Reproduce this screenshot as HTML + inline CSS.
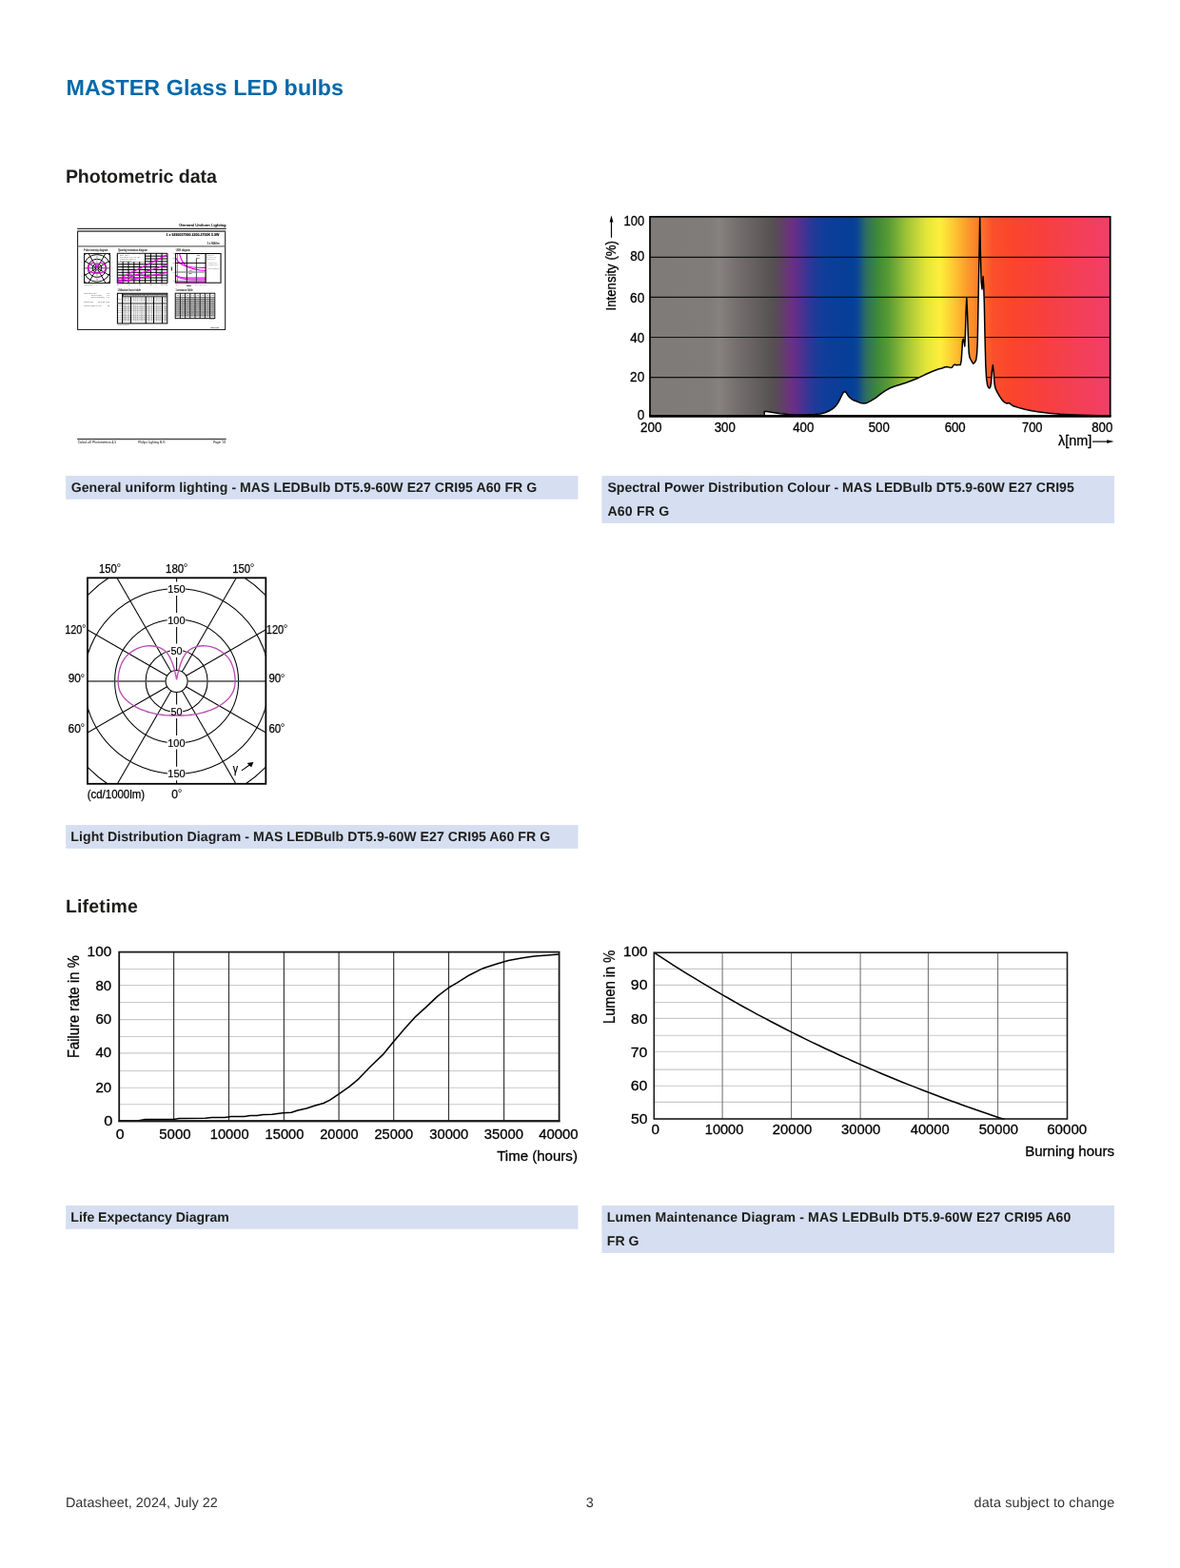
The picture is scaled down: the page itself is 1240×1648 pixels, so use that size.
<!DOCTYPE html>
<html lang="en"><head><meta charset="utf-8"><title>MASTER Glass LED bulbs</title>
<style>
html,body{margin:0;padding:0;background:#fff}
body{width:1240px;height:1648px;position:relative;overflow:hidden;font-family:"Liberation Sans",sans-serif;color:#1d1d1b}
.t{position:absolute;white-space:nowrap;margin:0;padding:0;line-height:1;text-rendering:geometricPrecision}
.cap{position:absolute;background:#d5dff1}
svg.art{position:absolute;left:0;top:0}
svg text{font-family:"Liberation Sans",sans-serif}
</style></head><body>
<svg class="art" width="1240" height="1648" viewBox="0 0 1240 1648" aria-hidden="true"><rect x="69.1" y="500.05" width="538.30" height="24.75" fill="#d5dff1"/><rect x="632.4" y="500.05" width="538.60" height="49.90" fill="#d5dff1"/><rect x="69.1" y="867.05" width="538.30" height="24.75" fill="#d5dff1"/><rect x="69.1" y="1267.05" width="538.30" height="24.75" fill="#d5dff1"/><rect x="632.4" y="1267.05" width="538.60" height="49.90" fill="#d5dff1"/></svg>
<h1 class="t " style="left:69.44px;top:81px;font-size:23.25px;font-weight:700;letter-spacing:0.106px;color:#0069a9">MASTER Glass LED bulbs</h1>
<h2 class="t " style="left:68.89px;top:177px;font-size:19.6px;font-weight:700;letter-spacing:-0.074px">Photometric data</h2>
<h2 class="t " style="left:68.90px;top:944px;font-size:19.4px;font-weight:700;letter-spacing:0.226px">Lifetime</h2>
<p class="t " style="left:74.72px;top:505px;font-size:14.1px;font-weight:700;letter-spacing:0.044px;color:#1d1d1b">General uniform lighting - MAS LEDBulb DT5.9-60W E27 CRI95 A60 FR G</p>
<p class="t " style="left:638.39px;top:505px;font-size:14.1px;font-weight:700;letter-spacing:0.002px;color:#1d1d1b">Spectral Power Distribution Colour - MAS LEDBulb DT5.9-60W E27 CRI95</p>
<p class="t " style="left:638.45px;top:530px;font-size:14.1px;font-weight:700;letter-spacing:0.209px;color:#1d1d1b">A60 FR G</p>
<p class="t " style="left:74.36px;top:872px;font-size:14.1px;font-weight:700;letter-spacing:0.046px;color:#1d1d1b">Light Distribution Diagram - MAS LEDBulb DT5.9-60W E27 CRI95 A60 FR G</p>
<p class="t " style="left:74.36px;top:1272px;font-size:14.1px;font-weight:700;letter-spacing:-0.054px;color:#1d1d1b">Life Expectancy Diagram</p>
<p class="t " style="left:637.86px;top:1272px;font-size:14.1px;font-weight:700;letter-spacing:0.103px;color:#1d1d1b">Lumen Maintenance Diagram - MAS LEDBulb DT5.9-60W E27 CRI95 A60</p>
<p class="t " style="left:637.86px;top:1297px;font-size:14.1px;font-weight:700;letter-spacing:-0.055px;color:#1d1d1b">FR G</p>
<div class="t " style="left:68.92px;top:1573px;font-size:14.4px;font-weight:400;letter-spacing:0.030px;color:#333">Datasheet, 2024, July 22</div>
<div class="t " style="left:615.75px;top:1573px;font-size:14.4px;font-weight:400;letter-spacing:0.000px;color:#333">3</div>
<div class="t " style="left:1023.50px;top:1573px;font-size:14.4px;font-weight:400;letter-spacing:0.140px;color:#333">data subject to change</div>
<svg class="art" width="1240" height="1648" viewBox="0 0 1240 1648">
<g id="thumb">
<defs><filter id="tblur" x="-5%" y="-5%" width="110%" height="110%"><feGaussianBlur stdDeviation="0.27"/></filter><clipPath id="mpclip"><rect x="88.5" y="266.5" width="27.0" height="31.0"/></clipPath><clipPath id="ugclip"><rect x="184.4" y="266.5" width="31.6" height="30.7"/></clipPath></defs>
<g filter="url(#tblur)">
<text transform="translate(188.28,238.40) scale(0.4445,0.4360)" font-size="10" font-weight="400" fill="#111" stroke="#111" stroke-width="0.36">General Uniform Lighting</text>
<line x1="81.20" y1="240.30" x2="237.70" y2="240.30" stroke="#333" stroke-width="1.15"/>
<rect x="81.6" y="243.0" width="155.1" height="103.4" fill="none" stroke="#111" stroke-width="1.0"/>
<line x1="81.60" y1="243.10" x2="236.70" y2="243.10" stroke="#666" stroke-width="1.2"/>
<line x1="81.60" y1="258.90" x2="236.70" y2="258.90" stroke="#666" stroke-width="1.3"/>
<text transform="translate(174.57,247.80) scale(0.3580,0.4215)" font-size="10" font-weight="700" fill="#000" stroke="#000" stroke-width="0.28">1 x 9290037990 2200-2700K 5.9W</text>
<text transform="translate(217.48,257.40) scale(0.2863,0.3198)" font-size="10" font-weight="400" fill="#222" stroke="#222" stroke-width="0.38">1 x 806 lm</text>
<text transform="translate(87.99,263.90) scale(0.2514,0.3198)" font-size="10" font-weight="400" fill="#333" stroke="#333" stroke-width="0.38">Polar intensity diagram</text>
<text transform="translate(123.88,263.90) scale(0.2497,0.3198)" font-size="10" font-weight="400" fill="#333" stroke="#333" stroke-width="0.38">Quantity estimation diagram</text>
<text transform="translate(184.81,263.90) scale(0.2446,0.3198)" font-size="10" font-weight="400" fill="#333" stroke="#333" stroke-width="0.38">UGR diagram</text>
<g clip-path="url(#mpclip)" fill="none" stroke="#000" stroke-width="0.95">
<circle cx="101.95" cy="281.85" r="1.70"/>
<circle cx="101.95" cy="281.85" r="4.79"/>
<circle cx="101.95" cy="281.85" r="9.59"/>
<circle cx="101.95" cy="281.85" r="14.38"/>
<circle cx="101.95" cy="281.85" r="19.18"/>
<line x1="102.80" y1="280.38" x2="116.95" y2="255.87" stroke="#000" stroke-width="0.95"/>
<line x1="103.42" y1="281.00" x2="127.93" y2="266.85" stroke="#000" stroke-width="0.95"/>
<line x1="103.42" y1="282.70" x2="127.93" y2="296.85" stroke="#000" stroke-width="0.95"/>
<line x1="102.80" y1="283.32" x2="116.95" y2="307.83" stroke="#000" stroke-width="0.95"/>
<line x1="101.10" y1="283.32" x2="86.95" y2="307.83" stroke="#000" stroke-width="0.95"/>
<line x1="100.48" y1="282.70" x2="75.97" y2="296.85" stroke="#000" stroke-width="0.95"/>
<line x1="100.48" y1="281.00" x2="75.97" y2="266.85" stroke="#000" stroke-width="0.95"/>
<line x1="101.10" y1="280.38" x2="86.95" y2="255.87" stroke="#000" stroke-width="0.95"/>
<line x1="88.10" y1="281.85" x2="115.90" y2="281.85" stroke="#000" stroke-width="0.7"/>
<line x1="101.95" y1="266.20" x2="101.95" y2="297.80" stroke="#999" stroke-width="0.9"/>
</g>
<path d="M101.95,281.60C101.94,281.52 101.89,281.30 101.86,281.14C101.83,280.99 101.80,280.84 101.77,280.70C101.73,280.55 101.70,280.40 101.66,280.25C101.62,280.10 101.58,279.95 101.54,279.80C101.49,279.65 101.45,279.51 101.40,279.36C101.35,279.21 101.30,279.07 101.24,278.92C101.19,278.78 101.13,278.63 101.06,278.49C101.00,278.35 100.93,278.20 100.86,278.07C100.78,277.93 100.70,277.80 100.62,277.67C100.53,277.55 100.43,277.43 100.32,277.32C100.21,277.21 100.10,277.11 99.97,277.02C99.85,276.93 99.72,276.85 99.59,276.78C99.45,276.71 99.31,276.65 99.17,276.60C99.03,276.55 98.88,276.50 98.74,276.47C98.59,276.44 98.44,276.41 98.29,276.39C98.14,276.38 97.98,276.37 97.83,276.37C97.68,276.37 97.52,276.38 97.37,276.39C97.21,276.41 97.06,276.43 96.91,276.46C96.75,276.49 96.60,276.53 96.45,276.57C96.30,276.62 96.15,276.67 96.00,276.73C95.86,276.79 95.71,276.85 95.58,276.92C95.44,276.99 95.30,277.07 95.17,277.15C95.03,277.24 94.90,277.33 94.78,277.42C94.66,277.51 94.54,277.61 94.43,277.72C94.31,277.82 94.21,277.93 94.11,278.05C94.01,278.16 93.91,278.28 93.83,278.40C93.74,278.52 93.66,278.65 93.59,278.78C93.52,278.91 93.45,279.05 93.40,279.19C93.34,279.33 93.28,279.47 93.23,279.61C93.18,279.76 93.14,279.91 93.10,280.06C93.06,280.21 93.03,280.36 93.00,280.52C92.97,280.68 92.95,280.84 92.93,281.00C92.91,281.16 92.89,281.32 92.88,281.48C92.88,281.64 92.87,281.80 92.88,281.96C92.88,282.12 92.89,282.28 92.91,282.43C92.93,282.59 92.96,282.74 93.00,282.89C93.04,283.04 93.08,283.18 93.14,283.32C93.19,283.46 93.26,283.59 93.33,283.72C93.40,283.85 93.48,283.98 93.56,284.10C93.65,284.22 93.74,284.34 93.84,284.45C93.94,284.56 94.04,284.67 94.15,284.78C94.26,284.88 94.37,284.98 94.49,285.08C94.61,285.18 94.74,285.27 94.86,285.36C94.99,285.45 95.12,285.54 95.25,285.62C95.39,285.70 95.53,285.78 95.66,285.85C95.80,285.93 95.94,286.00 96.09,286.06C96.23,286.13 96.37,286.19 96.51,286.25C96.66,286.31 96.80,286.37 96.95,286.43C97.09,286.48 97.24,286.53 97.39,286.58C97.53,286.62 97.68,286.67 97.83,286.71C97.98,286.75 98.13,286.79 98.28,286.82C98.43,286.86 98.58,286.89 98.73,286.92C98.88,286.95 99.03,286.97 99.18,287.00C99.33,287.02 99.49,287.04 99.64,287.06C99.79,287.08 99.94,287.09 100.10,287.11C100.25,287.12 100.41,287.13 100.56,287.14C100.71,287.15 100.87,287.16 101.02,287.16C101.17,287.17 101.33,287.17 101.48,287.17C101.64,287.17 101.87,287.17 101.95,287.17 M101.95,287.17C102.03,287.17 102.26,287.17 102.42,287.17C102.57,287.17 102.73,287.17 102.88,287.16C103.03,287.16 103.19,287.15 103.34,287.14C103.49,287.13 103.65,287.12 103.80,287.11C103.96,287.09 104.11,287.08 104.26,287.06C104.41,287.04 104.57,287.02 104.72,287.00C104.87,286.97 105.02,286.95 105.17,286.92C105.32,286.89 105.47,286.86 105.62,286.82C105.77,286.79 105.92,286.75 106.07,286.71C106.22,286.67 106.37,286.62 106.51,286.58C106.66,286.53 106.81,286.48 106.95,286.43C107.10,286.37 107.24,286.31 107.39,286.25C107.53,286.19 107.67,286.13 107.81,286.06C107.96,286.00 108.10,285.93 108.24,285.85C108.37,285.78 108.51,285.70 108.65,285.62C108.78,285.54 108.91,285.45 109.04,285.36C109.16,285.27 109.29,285.18 109.41,285.08C109.53,284.98 109.64,284.88 109.75,284.78C109.86,284.67 109.96,284.56 110.06,284.45C110.16,284.34 110.25,284.22 110.34,284.10C110.42,283.98 110.50,283.85 110.57,283.72C110.64,283.59 110.71,283.46 110.76,283.32C110.82,283.18 110.86,283.04 110.90,282.89C110.94,282.74 110.97,282.59 110.99,282.43C111.01,282.28 111.02,282.12 111.02,281.96C111.03,281.80 111.02,281.64 111.02,281.48C111.01,281.32 110.99,281.16 110.97,281.00C110.95,280.84 110.93,280.68 110.90,280.52C110.87,280.36 110.84,280.21 110.80,280.06C110.76,279.91 110.72,279.76 110.67,279.61C110.62,279.47 110.56,279.33 110.50,279.19C110.45,279.05 110.38,278.91 110.31,278.78C110.24,278.65 110.16,278.52 110.07,278.40C109.99,278.28 109.89,278.16 109.79,278.05C109.69,277.93 109.59,277.82 109.47,277.72C109.36,277.61 109.24,277.51 109.12,277.42C109.00,277.33 108.87,277.24 108.73,277.15C108.60,277.07 108.46,276.99 108.32,276.92C108.19,276.85 108.04,276.79 107.90,276.73C107.75,276.67 107.60,276.62 107.45,276.57C107.30,276.53 107.15,276.49 106.99,276.46C106.84,276.43 106.69,276.41 106.53,276.39C106.38,276.38 106.22,276.37 106.07,276.37C105.92,276.37 105.76,276.38 105.61,276.39C105.46,276.41 105.31,276.44 105.16,276.47C105.02,276.50 104.87,276.55 104.73,276.60C104.59,276.65 104.45,276.71 104.31,276.78C104.18,276.85 104.05,276.93 103.93,277.02C103.80,277.11 103.69,277.21 103.58,277.32C103.47,277.43 103.37,277.55 103.28,277.67C103.20,277.80 103.12,277.93 103.04,278.07C102.97,278.20 102.90,278.35 102.84,278.49C102.77,278.63 102.71,278.78 102.66,278.92C102.60,279.07 102.55,279.21 102.50,279.36C102.45,279.51 102.41,279.65 102.36,279.80C102.32,279.95 102.28,280.10 102.24,280.25C102.20,280.40 102.17,280.55 102.13,280.70C102.10,280.84 102.07,280.99 102.04,281.14C102.01,281.30 101.96,281.52 101.95,281.60" fill="none" stroke="#f200f2" stroke-width="1.25"/>
<rect x="88.5" y="266.5" width="27.0" height="31.0" fill="none" stroke="#000" stroke-width="0.9"/>
<text transform="translate(84.93,275.50) scale(0.1566,0.1890)" font-size="10" font-weight="400" fill="#777">90°</text>
<text transform="translate(85.53,283.00) scale(0.1566,0.1890)" font-size="10" font-weight="400" fill="#777">90°</text>
<text transform="translate(85.23,290.60) scale(0.1566,0.1890)" font-size="10" font-weight="400" fill="#777">90°</text>
<text transform="translate(116.53,275.50) scale(0.1566,0.1890)" font-size="10" font-weight="400" fill="#777">90°</text>
<text transform="translate(116.53,283.00) scale(0.1566,0.1890)" font-size="10" font-weight="400" fill="#777">90°</text>
<text transform="translate(116.53,290.60) scale(0.1566,0.1890)" font-size="10" font-weight="400" fill="#777">90°</text>
<text transform="translate(88.20,299.60) scale(0.1649,0.1890)" font-size="10" font-weight="400" fill="#666">(cd/1000lm)</text>
<text transform="translate(101.03,299.60) scale(0.1750,0.1890)" font-size="10" font-weight="400" fill="#666">0°</text>
<line x1="123.30" y1="266.30" x2="123.30" y2="297.70" stroke="#000" stroke-width="1.05"/>
<line x1="129.14" y1="266.30" x2="129.14" y2="297.70" stroke="#000" stroke-width="1.05"/>
<line x1="134.99" y1="266.30" x2="134.99" y2="297.70" stroke="#000" stroke-width="1.05"/>
<line x1="140.83" y1="266.30" x2="140.83" y2="297.70" stroke="#000" stroke-width="1.05"/>
<line x1="146.68" y1="266.30" x2="146.68" y2="297.70" stroke="#000" stroke-width="1.05"/>
<line x1="152.52" y1="266.30" x2="152.52" y2="297.70" stroke="#000" stroke-width="1.05"/>
<line x1="158.37" y1="266.30" x2="158.37" y2="297.70" stroke="#000" stroke-width="1.05"/>
<line x1="164.21" y1="266.30" x2="164.21" y2="297.70" stroke="#000" stroke-width="1.05"/>
<line x1="170.06" y1="266.30" x2="170.06" y2="297.70" stroke="#000" stroke-width="1.05"/>
<line x1="175.90" y1="266.30" x2="175.90" y2="297.70" stroke="#000" stroke-width="1.05"/>
<line x1="123.30" y1="266.30" x2="175.90" y2="266.30" stroke="#000" stroke-width="1.0"/>
<line x1="123.30" y1="269.15" x2="175.90" y2="269.15" stroke="#000" stroke-width="1.0"/>
<line x1="123.30" y1="272.01" x2="175.90" y2="272.01" stroke="#000" stroke-width="1.0"/>
<line x1="123.30" y1="274.86" x2="175.90" y2="274.86" stroke="#000" stroke-width="1.0"/>
<line x1="123.30" y1="277.72" x2="175.90" y2="277.72" stroke="#000" stroke-width="1.0"/>
<line x1="123.30" y1="280.57" x2="175.90" y2="280.57" stroke="#000" stroke-width="1.0"/>
<line x1="123.30" y1="283.43" x2="175.90" y2="283.43" stroke="#000" stroke-width="1.0"/>
<line x1="123.30" y1="286.28" x2="175.90" y2="286.28" stroke="#000" stroke-width="1.0"/>
<line x1="123.30" y1="289.14" x2="175.90" y2="289.14" stroke="#000" stroke-width="1.0"/>
<line x1="123.30" y1="291.99" x2="175.90" y2="291.99" stroke="#000" stroke-width="1.0"/>
<line x1="123.30" y1="294.85" x2="175.90" y2="294.85" stroke="#000" stroke-width="1.0"/>
<line x1="123.30" y1="297.70" x2="175.90" y2="297.70" stroke="#000" stroke-width="1.0"/>
<rect x="124.0" y="266.9" width="28.0" height="8.2" fill="#fff"/>
<text transform="translate(126.07,269.20) scale(0.1585,0.1817)" font-size="10" font-weight="400" fill="#555">Eavg = 500 lx</text>
<text transform="translate(126.07,271.25) scale(0.1557,0.1817)" font-size="10" font-weight="400" fill="#555">Reflectances: 0.70, 0.50, 0.20</text>
<text transform="translate(126.07,273.30) scale(0.1597,0.1817)" font-size="10" font-weight="400" fill="#555">Maintenance factor: 1.0</text>
<text transform="translate(126.11,275.35) scale(0.1687,0.1817)" font-size="10" font-weight="400" fill="#555">Ceiling mounted</text>
<line x1="123.80" y1="293.50" x2="175.50" y2="267.90" stroke="#f200f2" stroke-width="1.35"/>
<line x1="123.80" y1="295.30" x2="175.50" y2="278.20" stroke="#f200f2" stroke-width="1.35"/>
<line x1="123.80" y1="296.80" x2="175.50" y2="286.30" stroke="#f200f2" stroke-width="1.35"/>
<text transform="translate(122.90,299.50) scale(0.1955,0.1890)" font-size="10" font-weight="400" fill="#777">20</text>
<text transform="translate(134.56,299.50) scale(0.1904,0.1890)" font-size="10" font-weight="400" fill="#777">40</text>
<text transform="translate(146.10,299.50) scale(0.1956,0.1890)" font-size="10" font-weight="400" fill="#777">60</text>
<text transform="translate(157.72,299.50) scale(0.1942,0.1890)" font-size="10" font-weight="400" fill="#777">80</text>
<text transform="translate(169.26,299.50) scale(0.1803,0.1890)" font-size="10" font-weight="400" fill="#777">100</text>
<text transform="translate(173.31,299.50) scale(0.1450,0.1890)" font-size="10" font-weight="400" fill="#777">(m2)</text>
<g clip-path="url(#ugclip)" fill="none">
<path d="M188.6,267 C190.3,273 193,278 196.5,280 C201,281.4 208,281.3 216,281.4" stroke="#f200f2" stroke-width="1.1"/>
<path d="M185,271.3 C187,276 191.5,279 196.5,280.3 C202,282.8 209,284.2 216,284.5" stroke="#f200f2" stroke-width="1.1"/>
<path d="M185,289.3 C188,291.4 192,291.9 196.5,291.9 L216,291.9 L216,294.1 L201.6,294.1 C194,293.8 189,292.6 185,290.2 Z" fill="#f97ff9" stroke="#f200f2" stroke-width="0.9"/>
<line x1="184.40" y1="296.30" x2="216.00" y2="296.30" stroke="#f200f2" stroke-width="1.1"/>
</g>
<line x1="186.40" y1="266.50" x2="186.40" y2="297.20" stroke="#666" stroke-width="0.8"/>
<line x1="196.30" y1="266.50" x2="196.30" y2="297.20" stroke="#000" stroke-width="0.95"/>
<line x1="206.40" y1="271.50" x2="206.40" y2="297.20" stroke="#333" stroke-width="0.9"/>
<line x1="216.10" y1="266.50" x2="216.10" y2="297.20" stroke="#000" stroke-width="1.2"/>
<line x1="184.40" y1="276.40" x2="216.00" y2="276.40" stroke="#000" stroke-width="0.95"/>
<line x1="184.40" y1="286.00" x2="216.00" y2="286.00" stroke="#777" stroke-width="1.1"/>
<line x1="184.40" y1="295.30" x2="216.00" y2="295.30" stroke="#555" stroke-width="0.7"/>
<rect x="184.4" y="266.5" width="47.7" height="30.7" fill="none" stroke="#000" stroke-width="1.0"/>
<line x1="232.00" y1="266.50" x2="232.00" y2="297.20" stroke="#777" stroke-width="1.3"/>
<line x1="180.30" y1="280.50" x2="180.30" y2="284.50" stroke="#000" stroke-width="0.9"/>
<line x1="196.20" y1="300.30" x2="200.80" y2="300.30" stroke="#000" stroke-width="0.7"/>
<text transform="translate(206.25,268.60) scale(0.3094,0.2035)" font-size="10" font-weight="700" fill="#111">4H</text>
<text transform="translate(206.20,271.50) scale(0.3138,0.2035)" font-size="10" font-weight="700" fill="#444">8H</text>
<text transform="translate(198.56,284.60) scale(0.2843,0.2035)" font-size="10" font-weight="700" fill="#111">4H</text>
<text transform="translate(198.51,287.80) scale(0.2883,0.2035)" font-size="10" font-weight="700" fill="#444">8H</text>
<text transform="translate(217.41,268.80) scale(0.1071,0.1817)" font-size="10" font-weight="400" fill="#777">Luminaire data</text>
<text transform="translate(216.87,270.80) scale(0.1525,0.1817)" font-size="10" font-weight="400" fill="#777">Eye level 1.2 m</text>
<text transform="translate(216.99,272.80) scale(0.1202,0.1817)" font-size="10" font-weight="400" fill="#777">Viewing direction</text>
<text transform="translate(219.14,276.80) scale(0.1116,0.1817)" font-size="10" font-weight="400" fill="#777">Crosswise viewed</text>
<text transform="translate(219.11,278.80) scale(0.1132,0.1817)" font-size="10" font-weight="400" fill="#777">Lengthwise viewed</text>
<text transform="translate(219.04,282.80) scale(0.1907,0.1817)" font-size="10" font-weight="400" fill="#777">Reflectances</text>
<text transform="translate(185.09,299.60) scale(0.2268,0.1890)" font-size="10" font-weight="400" fill="#777">2H</text>
<text transform="translate(195.15,299.60) scale(0.2215,0.1890)" font-size="10" font-weight="400" fill="#777">4H</text>
<text transform="translate(204.90,299.60) scale(0.2254,0.1890)" font-size="10" font-weight="400" fill="#777">8H</text>
<text transform="translate(209.38,299.60) scale(0.1551,0.1890)" font-size="10" font-weight="400" fill="#777">12H</text>
<text transform="translate(214.18,299.60) scale(0.1551,0.1890)" font-size="10" font-weight="400" fill="#777">16H</text>
<text transform="translate(181.51,266.90) scale(0.1767,0.1890)" font-size="10" font-weight="400" fill="#777">28</text>
<text transform="translate(181.51,272.00) scale(0.1765,0.1890)" font-size="10" font-weight="400" fill="#777">25</text>
<text transform="translate(181.51,276.90) scale(0.1779,0.1890)" font-size="10" font-weight="400" fill="#777">22</text>
<text transform="translate(181.46,286.60) scale(0.1820,0.1890)" font-size="10" font-weight="400" fill="#777">19</text>
<text transform="translate(181.46,296.00) scale(0.1814,0.1890)" font-size="10" font-weight="400" fill="#777">16</text>
<text transform="translate(123.80,305.50) scale(0.2543,0.3198)" font-size="10" font-weight="400" fill="#333" stroke="#333" stroke-width="0.38">Utilisation factor table</text>
<text transform="translate(184.81,305.50) scale(0.2359,0.3198)" font-size="10" font-weight="400" fill="#333" stroke="#333" stroke-width="0.38">Luminance Table</text>
<text transform="translate(88.05,309.10) scale(0.1802,0.2471)" font-size="10" font-weight="400" fill="#555">Light output ratio</text>
<text transform="translate(112.14,309.10) scale(0.1502,0.2471)" font-size="10" font-weight="400" fill="#555">0.88</text>
<text transform="translate(95.93,311.20) scale(0.1622,0.2471)" font-size="10" font-weight="400" fill="#555">Service upward</text>
<text transform="translate(112.14,311.20) scale(0.1507,0.2471)" font-size="10" font-weight="400" fill="#555">0.41</text>
<text transform="translate(95.92,313.40) scale(0.1712,0.2471)" font-size="10" font-weight="400" fill="#555">Service downward</text>
<text transform="translate(112.14,313.40) scale(0.1508,0.2471)" font-size="10" font-weight="400" fill="#555">0.47</text>
<text transform="translate(88.11,317.80) scale(0.1675,0.2471)" font-size="10" font-weight="400" fill="#555">CIE flux code</text>
<text transform="translate(103.13,317.80) scale(0.1790,0.2471)" font-size="10" font-weight="400" fill="#555">33 61 85 47 88</text>
<text transform="translate(88.04,322.00) scale(0.2073,0.2471)" font-size="10" font-weight="400" fill="#555">Unified UGR(4H 8H)</text>
<text transform="translate(113.11,322.00) scale(0.1779,0.2471)" font-size="10" font-weight="400" fill="#555">22</text>
<rect x="123.4" y="308.3" width="52.40" height="31.60" fill="#fff" stroke="#000" stroke-width="1.0"/>
<rect x="128.6" y="309.0" width="47.0" height="2.6" fill="#555"/>
<text transform="translate(129.89,310.90) scale(0.1601,0.1890)" font-size="10" font-weight="700" fill="#fff">Reflectances (%) for ceiling, walls and working plane (CIE)</text>
<line x1="128.60" y1="311.90" x2="175.80" y2="311.90" stroke="#333" stroke-width="0.7"/>
<line x1="123.40" y1="318.80" x2="175.80" y2="318.80" stroke="#555" stroke-width="1.3"/>
<text transform="translate(129.23,314.30) scale(0.1784,0.2762)" font-size="10" font-weight="400" fill="#666">0.80 0.80</text>
<text transform="translate(138.54,314.30) scale(0.1616,0.2762)" font-size="10" font-weight="400" fill="#666">0.70 0.70 0.70 0.70</text>
<text transform="translate(154.14,314.30) scale(0.1564,0.2762)" font-size="10" font-weight="400" fill="#666">0.50 0.50</text>
<text transform="translate(162.54,314.30) scale(0.1662,0.2762)" font-size="10" font-weight="400" fill="#666">0.30 0.30</text>
<text transform="translate(171.32,314.30) scale(0.1927,0.2762)" font-size="10" font-weight="400" fill="#666">0.00</text>
<text transform="translate(129.23,316.50) scale(0.1784,0.2762)" font-size="10" font-weight="400" fill="#666">0.80 0.80</text>
<text transform="translate(138.54,316.50) scale(0.1616,0.2762)" font-size="10" font-weight="400" fill="#666">0.70 0.70 0.70 0.70</text>
<text transform="translate(154.14,316.50) scale(0.1564,0.2762)" font-size="10" font-weight="400" fill="#666">0.50 0.50</text>
<text transform="translate(162.54,316.50) scale(0.1662,0.2762)" font-size="10" font-weight="400" fill="#666">0.30 0.30</text>
<text transform="translate(171.32,316.50) scale(0.1927,0.2762)" font-size="10" font-weight="400" fill="#666">0.00</text>
<text transform="translate(129.23,322.60) scale(0.1784,0.2762)" font-size="10" font-weight="400" fill="#666">0.80 0.80</text>
<text transform="translate(138.54,322.60) scale(0.1616,0.2762)" font-size="10" font-weight="400" fill="#666">0.70 0.70 0.70 0.70</text>
<text transform="translate(154.14,322.60) scale(0.1564,0.2762)" font-size="10" font-weight="400" fill="#666">0.50 0.50</text>
<text transform="translate(162.54,322.60) scale(0.1662,0.2762)" font-size="10" font-weight="400" fill="#666">0.30 0.30</text>
<text transform="translate(171.32,322.60) scale(0.1927,0.2762)" font-size="10" font-weight="400" fill="#666">0.00</text>
<text transform="translate(124.23,322.45) scale(0.1766,0.2108)" font-size="10" font-weight="400" fill="#555">0.60</text>
<text transform="translate(129.23,324.87) scale(0.1784,0.2762)" font-size="10" font-weight="400" fill="#666">0.80 0.80</text>
<text transform="translate(138.54,324.87) scale(0.1616,0.2762)" font-size="10" font-weight="400" fill="#666">0.70 0.70 0.70 0.70</text>
<text transform="translate(154.14,324.87) scale(0.1564,0.2762)" font-size="10" font-weight="400" fill="#666">0.50 0.50</text>
<text transform="translate(162.54,324.87) scale(0.1662,0.2762)" font-size="10" font-weight="400" fill="#666">0.30 0.30</text>
<text transform="translate(171.32,324.87) scale(0.1927,0.2762)" font-size="10" font-weight="400" fill="#666">0.00</text>
<text transform="translate(124.16,324.72) scale(0.1802,0.2108)" font-size="10" font-weight="400" fill="#555">1.60</text>
<text transform="translate(129.23,327.14) scale(0.1784,0.2762)" font-size="10" font-weight="400" fill="#666">0.80 0.80</text>
<text transform="translate(138.54,327.14) scale(0.1616,0.2762)" font-size="10" font-weight="400" fill="#666">0.70 0.70 0.70 0.70</text>
<text transform="translate(154.14,327.14) scale(0.1564,0.2762)" font-size="10" font-weight="400" fill="#666">0.50 0.50</text>
<text transform="translate(162.54,327.14) scale(0.1662,0.2762)" font-size="10" font-weight="400" fill="#666">0.30 0.30</text>
<text transform="translate(171.32,327.14) scale(0.1927,0.2762)" font-size="10" font-weight="400" fill="#666">0.00</text>
<text transform="translate(124.21,326.99) scale(0.1777,0.2108)" font-size="10" font-weight="400" fill="#555">2.60</text>
<text transform="translate(129.23,329.41) scale(0.1784,0.2762)" font-size="10" font-weight="400" fill="#666">0.80 0.80</text>
<text transform="translate(138.54,329.41) scale(0.1616,0.2762)" font-size="10" font-weight="400" fill="#666">0.70 0.70 0.70 0.70</text>
<text transform="translate(154.14,329.41) scale(0.1564,0.2762)" font-size="10" font-weight="400" fill="#666">0.50 0.50</text>
<text transform="translate(162.54,329.41) scale(0.1662,0.2762)" font-size="10" font-weight="400" fill="#666">0.30 0.30</text>
<text transform="translate(171.32,329.41) scale(0.1927,0.2762)" font-size="10" font-weight="400" fill="#666">0.00</text>
<text transform="translate(124.23,329.26) scale(0.1766,0.2108)" font-size="10" font-weight="400" fill="#555">3.60</text>
<text transform="translate(129.23,331.68) scale(0.1784,0.2762)" font-size="10" font-weight="400" fill="#666">0.80 0.80</text>
<text transform="translate(138.54,331.68) scale(0.1616,0.2762)" font-size="10" font-weight="400" fill="#666">0.70 0.70 0.70 0.70</text>
<text transform="translate(154.14,331.68) scale(0.1564,0.2762)" font-size="10" font-weight="400" fill="#666">0.50 0.50</text>
<text transform="translate(162.54,331.68) scale(0.1662,0.2762)" font-size="10" font-weight="400" fill="#666">0.30 0.30</text>
<text transform="translate(171.32,331.68) scale(0.1927,0.2762)" font-size="10" font-weight="400" fill="#666">0.00</text>
<text transform="translate(124.26,331.53) scale(0.1751,0.2108)" font-size="10" font-weight="400" fill="#555">4.60</text>
<text transform="translate(129.23,333.95) scale(0.1784,0.2762)" font-size="10" font-weight="400" fill="#666">0.80 0.80</text>
<text transform="translate(138.54,333.95) scale(0.1616,0.2762)" font-size="10" font-weight="400" fill="#666">0.70 0.70 0.70 0.70</text>
<text transform="translate(154.14,333.95) scale(0.1564,0.2762)" font-size="10" font-weight="400" fill="#666">0.50 0.50</text>
<text transform="translate(162.54,333.95) scale(0.1662,0.2762)" font-size="10" font-weight="400" fill="#666">0.30 0.30</text>
<text transform="translate(171.32,333.95) scale(0.1927,0.2762)" font-size="10" font-weight="400" fill="#666">0.00</text>
<text transform="translate(124.23,333.80) scale(0.1767,0.2108)" font-size="10" font-weight="400" fill="#555">5.60</text>
<text transform="translate(129.23,336.22) scale(0.1784,0.2762)" font-size="10" font-weight="400" fill="#666">0.80 0.80</text>
<text transform="translate(138.54,336.22) scale(0.1616,0.2762)" font-size="10" font-weight="400" fill="#666">0.70 0.70 0.70 0.70</text>
<text transform="translate(154.14,336.22) scale(0.1564,0.2762)" font-size="10" font-weight="400" fill="#666">0.50 0.50</text>
<text transform="translate(162.54,336.22) scale(0.1662,0.2762)" font-size="10" font-weight="400" fill="#666">0.30 0.30</text>
<text transform="translate(171.32,336.22) scale(0.1927,0.2762)" font-size="10" font-weight="400" fill="#666">0.00</text>
<text transform="translate(124.21,336.07) scale(0.1778,0.2108)" font-size="10" font-weight="400" fill="#555">6.60</text>
<text transform="translate(129.23,338.49) scale(0.1784,0.2762)" font-size="10" font-weight="400" fill="#666">0.80 0.80</text>
<text transform="translate(138.54,338.49) scale(0.1616,0.2762)" font-size="10" font-weight="400" fill="#666">0.70 0.70 0.70 0.70</text>
<text transform="translate(154.14,338.49) scale(0.1564,0.2762)" font-size="10" font-weight="400" fill="#666">0.50 0.50</text>
<text transform="translate(162.54,338.49) scale(0.1662,0.2762)" font-size="10" font-weight="400" fill="#666">0.30 0.30</text>
<text transform="translate(171.32,338.49) scale(0.1927,0.2762)" font-size="10" font-weight="400" fill="#666">0.00</text>
<text transform="translate(124.23,338.34) scale(0.1767,0.2108)" font-size="10" font-weight="400" fill="#555">5.00</text>
<text transform="translate(124.19,315.30) scale(0.1310,0.2035)" font-size="10" font-weight="400" fill="#666">Room</text>
<line x1="128.60" y1="308.30" x2="128.60" y2="339.90" stroke="#000" stroke-width="1.05"/>
<line x1="137.50" y1="311.90" x2="137.50" y2="339.90" stroke="#000" stroke-width="1.05"/>
<line x1="153.20" y1="311.90" x2="153.20" y2="339.90" stroke="#000" stroke-width="1.05"/>
<line x1="161.50" y1="311.90" x2="161.50" y2="339.90" stroke="#000" stroke-width="1.05"/>
<line x1="170.50" y1="311.90" x2="170.50" y2="339.90" stroke="#000" stroke-width="1.05"/>
<text transform="translate(123.51,341.90) scale(0.1687,0.1890)" font-size="10" font-weight="400" fill="#666">Ceiling mounted</text>
<rect x="184.2" y="308.2" width="41.60" height="26.50" fill="#f0f0f0" stroke="#000" stroke-width="0.9"/>
<rect x="185.20" y="309.2" width="3.60" height="2.7" fill="#fff"/>
<text transform="translate(185.61,311.40) scale(0.2090,0.2180)" font-size="10" font-weight="700" fill="#555">C0</text>
<rect x="185.10" y="313.10" width="3.70" height="1.0" fill="#fff" opacity="0.9"/>
<text transform="translate(185.50,314.10) scale(0.1327,0.1744)" font-size="10" font-weight="400" fill="#777">1200</text>
<rect x="185.10" y="315.02" width="3.70" height="1.0" fill="#fff" opacity="0.9"/>
<text transform="translate(185.50,316.02) scale(0.1335,0.1744)" font-size="10" font-weight="400" fill="#777">1237</text>
<rect x="185.10" y="316.94" width="3.70" height="1.0" fill="#fff" opacity="0.9"/>
<text transform="translate(185.50,317.94) scale(0.1321,0.1744)" font-size="10" font-weight="400" fill="#777">1274</text>
<rect x="185.10" y="318.86" width="3.70" height="1.0" fill="#fff" opacity="0.9"/>
<text transform="translate(185.50,319.86) scale(0.1334,0.1744)" font-size="10" font-weight="400" fill="#777">1311</text>
<rect x="185.10" y="320.78" width="3.70" height="1.0" fill="#fff" opacity="0.9"/>
<text transform="translate(185.50,321.78) scale(0.1330,0.1744)" font-size="10" font-weight="400" fill="#777">1348</text>
<rect x="185.10" y="322.70" width="3.70" height="1.0" fill="#fff" opacity="0.9"/>
<text transform="translate(185.50,323.70) scale(0.1329,0.1744)" font-size="10" font-weight="400" fill="#777">1385</text>
<rect x="185.10" y="324.62" width="3.70" height="1.0" fill="#fff" opacity="0.9"/>
<text transform="translate(185.50,325.62) scale(0.1335,0.1744)" font-size="10" font-weight="400" fill="#777">1422</text>
<rect x="185.10" y="326.54" width="3.70" height="1.0" fill="#fff" opacity="0.9"/>
<text transform="translate(185.50,327.54) scale(0.1333,0.1744)" font-size="10" font-weight="400" fill="#777">1459</text>
<rect x="185.10" y="328.46" width="3.70" height="1.0" fill="#fff" opacity="0.9"/>
<text transform="translate(185.50,329.46) scale(0.1330,0.1744)" font-size="10" font-weight="400" fill="#777">1496</text>
<rect x="185.10" y="330.38" width="3.70" height="1.0" fill="#fff" opacity="0.9"/>
<text transform="translate(185.50,331.38) scale(0.1330,0.1744)" font-size="10" font-weight="400" fill="#777">1533</text>
<rect x="185.10" y="332.30" width="3.70" height="1.0" fill="#fff" opacity="0.9"/>
<text transform="translate(185.50,333.30) scale(0.1327,0.1744)" font-size="10" font-weight="400" fill="#777">1570</text>
<rect x="190.40" y="309.2" width="3.60" height="2.7" fill="#fff"/>
<text transform="translate(190.84,311.40) scale(0.1416,0.2180)" font-size="10" font-weight="700" fill="#555">C15</text>
<rect x="190.30" y="313.10" width="3.70" height="1.0" fill="#fff" opacity="0.9"/>
<text transform="translate(190.70,314.10) scale(0.1334,0.1744)" font-size="10" font-weight="400" fill="#777">1211</text>
<rect x="190.30" y="315.02" width="3.70" height="1.0" fill="#fff" opacity="0.9"/>
<text transform="translate(190.70,316.02) scale(0.1330,0.1744)" font-size="10" font-weight="400" fill="#777">1248</text>
<rect x="190.30" y="316.94" width="3.70" height="1.0" fill="#fff" opacity="0.9"/>
<text transform="translate(190.70,317.94) scale(0.1329,0.1744)" font-size="10" font-weight="400" fill="#777">1285</text>
<rect x="190.30" y="318.86" width="3.70" height="1.0" fill="#fff" opacity="0.9"/>
<text transform="translate(190.70,319.86) scale(0.1335,0.1744)" font-size="10" font-weight="400" fill="#777">1322</text>
<rect x="190.30" y="320.78" width="3.70" height="1.0" fill="#fff" opacity="0.9"/>
<text transform="translate(190.70,321.78) scale(0.1333,0.1744)" font-size="10" font-weight="400" fill="#777">1359</text>
<rect x="190.30" y="322.70" width="3.70" height="1.0" fill="#fff" opacity="0.9"/>
<text transform="translate(190.70,323.70) scale(0.1330,0.1744)" font-size="10" font-weight="400" fill="#777">1396</text>
<rect x="190.30" y="324.62" width="3.70" height="1.0" fill="#fff" opacity="0.9"/>
<text transform="translate(190.70,325.62) scale(0.1330,0.1744)" font-size="10" font-weight="400" fill="#777">1433</text>
<rect x="190.30" y="326.54" width="3.70" height="1.0" fill="#fff" opacity="0.9"/>
<text transform="translate(190.70,327.54) scale(0.1327,0.1744)" font-size="10" font-weight="400" fill="#777">1470</text>
<rect x="190.30" y="328.46" width="3.70" height="1.0" fill="#fff" opacity="0.9"/>
<text transform="translate(190.70,329.46) scale(0.1335,0.1744)" font-size="10" font-weight="400" fill="#777">1507</text>
<rect x="190.30" y="330.38" width="3.70" height="1.0" fill="#fff" opacity="0.9"/>
<text transform="translate(190.70,331.38) scale(0.1321,0.1744)" font-size="10" font-weight="400" fill="#777">1544</text>
<rect x="190.30" y="332.30" width="3.70" height="1.0" fill="#fff" opacity="0.9"/>
<text transform="translate(190.70,333.30) scale(0.1334,0.1744)" font-size="10" font-weight="400" fill="#777">1581</text>
<rect x="195.60" y="309.2" width="3.60" height="2.7" fill="#fff"/>
<text transform="translate(196.04,311.40) scale(0.1427,0.2180)" font-size="10" font-weight="700" fill="#555">C30</text>
<rect x="195.50" y="313.10" width="3.70" height="1.0" fill="#fff" opacity="0.9"/>
<text transform="translate(195.90,314.10) scale(0.1335,0.1744)" font-size="10" font-weight="400" fill="#777">1222</text>
<rect x="195.50" y="315.02" width="3.70" height="1.0" fill="#fff" opacity="0.9"/>
<text transform="translate(195.90,316.02) scale(0.1333,0.1744)" font-size="10" font-weight="400" fill="#777">1259</text>
<rect x="195.50" y="316.94" width="3.70" height="1.0" fill="#fff" opacity="0.9"/>
<text transform="translate(195.90,317.94) scale(0.1330,0.1744)" font-size="10" font-weight="400" fill="#777">1296</text>
<rect x="195.50" y="318.86" width="3.70" height="1.0" fill="#fff" opacity="0.9"/>
<text transform="translate(195.90,319.86) scale(0.1330,0.1744)" font-size="10" font-weight="400" fill="#777">1333</text>
<rect x="195.50" y="320.78" width="3.70" height="1.0" fill="#fff" opacity="0.9"/>
<text transform="translate(195.90,321.78) scale(0.1327,0.1744)" font-size="10" font-weight="400" fill="#777">1370</text>
<rect x="195.50" y="322.70" width="3.70" height="1.0" fill="#fff" opacity="0.9"/>
<text transform="translate(195.90,323.70) scale(0.1335,0.1744)" font-size="10" font-weight="400" fill="#777">1407</text>
<rect x="195.50" y="324.62" width="3.70" height="1.0" fill="#fff" opacity="0.9"/>
<text transform="translate(195.90,325.62) scale(0.1321,0.1744)" font-size="10" font-weight="400" fill="#777">1444</text>
<rect x="195.50" y="326.54" width="3.70" height="1.0" fill="#fff" opacity="0.9"/>
<text transform="translate(195.90,327.54) scale(0.1334,0.1744)" font-size="10" font-weight="400" fill="#777">1481</text>
<rect x="195.50" y="328.46" width="3.70" height="1.0" fill="#fff" opacity="0.9"/>
<text transform="translate(195.90,329.46) scale(0.1330,0.1744)" font-size="10" font-weight="400" fill="#777">1518</text>
<rect x="195.50" y="330.38" width="3.70" height="1.0" fill="#fff" opacity="0.9"/>
<text transform="translate(195.90,331.38) scale(0.1329,0.1744)" font-size="10" font-weight="400" fill="#777">1555</text>
<rect x="195.50" y="332.30" width="3.70" height="1.0" fill="#fff" opacity="0.9"/>
<text transform="translate(195.90,333.30) scale(0.1335,0.1744)" font-size="10" font-weight="400" fill="#777">1592</text>
<rect x="200.80" y="309.2" width="3.60" height="2.7" fill="#fff"/>
<text transform="translate(201.24,311.40) scale(0.1416,0.2180)" font-size="10" font-weight="700" fill="#555">C45</text>
<rect x="200.70" y="313.10" width="3.70" height="1.0" fill="#fff" opacity="0.9"/>
<text transform="translate(201.10,314.10) scale(0.1330,0.1744)" font-size="10" font-weight="400" fill="#777">1233</text>
<rect x="200.70" y="315.02" width="3.70" height="1.0" fill="#fff" opacity="0.9"/>
<text transform="translate(201.10,316.02) scale(0.1327,0.1744)" font-size="10" font-weight="400" fill="#777">1270</text>
<rect x="200.70" y="316.94" width="3.70" height="1.0" fill="#fff" opacity="0.9"/>
<text transform="translate(201.10,317.94) scale(0.1335,0.1744)" font-size="10" font-weight="400" fill="#777">1307</text>
<rect x="200.70" y="318.86" width="3.70" height="1.0" fill="#fff" opacity="0.9"/>
<text transform="translate(201.10,319.86) scale(0.1321,0.1744)" font-size="10" font-weight="400" fill="#777">1344</text>
<rect x="200.70" y="320.78" width="3.70" height="1.0" fill="#fff" opacity="0.9"/>
<text transform="translate(201.10,321.78) scale(0.1334,0.1744)" font-size="10" font-weight="400" fill="#777">1381</text>
<rect x="200.70" y="322.70" width="3.70" height="1.0" fill="#fff" opacity="0.9"/>
<text transform="translate(201.10,323.70) scale(0.1330,0.1744)" font-size="10" font-weight="400" fill="#777">1418</text>
<rect x="200.70" y="324.62" width="3.70" height="1.0" fill="#fff" opacity="0.9"/>
<text transform="translate(201.10,325.62) scale(0.1329,0.1744)" font-size="10" font-weight="400" fill="#777">1455</text>
<rect x="200.70" y="326.54" width="3.70" height="1.0" fill="#fff" opacity="0.9"/>
<text transform="translate(201.10,327.54) scale(0.1335,0.1744)" font-size="10" font-weight="400" fill="#777">1492</text>
<rect x="200.70" y="328.46" width="3.70" height="1.0" fill="#fff" opacity="0.9"/>
<text transform="translate(201.10,329.46) scale(0.1333,0.1744)" font-size="10" font-weight="400" fill="#777">1529</text>
<rect x="200.70" y="330.38" width="3.70" height="1.0" fill="#fff" opacity="0.9"/>
<text transform="translate(201.10,331.38) scale(0.1330,0.1744)" font-size="10" font-weight="400" fill="#777">1566</text>
<rect x="200.70" y="332.30" width="3.70" height="1.0" fill="#fff" opacity="0.9"/>
<text transform="translate(201.10,333.30) scale(0.1330,0.1744)" font-size="10" font-weight="400" fill="#777">1603</text>
<rect x="206.00" y="309.2" width="3.60" height="2.7" fill="#fff"/>
<text transform="translate(206.44,311.40) scale(0.1427,0.2180)" font-size="10" font-weight="700" fill="#555">C60</text>
<rect x="205.90" y="313.10" width="3.70" height="1.0" fill="#fff" opacity="0.9"/>
<text transform="translate(206.30,314.10) scale(0.1321,0.1744)" font-size="10" font-weight="400" fill="#777">1244</text>
<rect x="205.90" y="315.02" width="3.70" height="1.0" fill="#fff" opacity="0.9"/>
<text transform="translate(206.30,316.02) scale(0.1334,0.1744)" font-size="10" font-weight="400" fill="#777">1281</text>
<rect x="205.90" y="316.94" width="3.70" height="1.0" fill="#fff" opacity="0.9"/>
<text transform="translate(206.30,317.94) scale(0.1330,0.1744)" font-size="10" font-weight="400" fill="#777">1318</text>
<rect x="205.90" y="318.86" width="3.70" height="1.0" fill="#fff" opacity="0.9"/>
<text transform="translate(206.30,319.86) scale(0.1329,0.1744)" font-size="10" font-weight="400" fill="#777">1355</text>
<rect x="205.90" y="320.78" width="3.70" height="1.0" fill="#fff" opacity="0.9"/>
<text transform="translate(206.30,321.78) scale(0.1335,0.1744)" font-size="10" font-weight="400" fill="#777">1392</text>
<rect x="205.90" y="322.70" width="3.70" height="1.0" fill="#fff" opacity="0.9"/>
<text transform="translate(206.30,323.70) scale(0.1333,0.1744)" font-size="10" font-weight="400" fill="#777">1429</text>
<rect x="205.90" y="324.62" width="3.70" height="1.0" fill="#fff" opacity="0.9"/>
<text transform="translate(206.30,325.62) scale(0.1330,0.1744)" font-size="10" font-weight="400" fill="#777">1466</text>
<rect x="205.90" y="326.54" width="3.70" height="1.0" fill="#fff" opacity="0.9"/>
<text transform="translate(206.30,327.54) scale(0.1330,0.1744)" font-size="10" font-weight="400" fill="#777">1503</text>
<rect x="205.90" y="328.46" width="3.70" height="1.0" fill="#fff" opacity="0.9"/>
<text transform="translate(206.30,329.46) scale(0.1327,0.1744)" font-size="10" font-weight="400" fill="#777">1540</text>
<rect x="205.90" y="330.38" width="3.70" height="1.0" fill="#fff" opacity="0.9"/>
<text transform="translate(206.30,331.38) scale(0.1335,0.1744)" font-size="10" font-weight="400" fill="#777">1577</text>
<rect x="205.90" y="332.30" width="3.70" height="1.0" fill="#fff" opacity="0.9"/>
<text transform="translate(206.30,333.30) scale(0.1321,0.1744)" font-size="10" font-weight="400" fill="#777">1614</text>
<rect x="211.20" y="309.2" width="3.60" height="2.7" fill="#fff"/>
<text transform="translate(211.64,311.40) scale(0.1416,0.2180)" font-size="10" font-weight="700" fill="#555">C75</text>
<rect x="211.10" y="313.10" width="3.70" height="1.0" fill="#fff" opacity="0.9"/>
<text transform="translate(211.50,314.10) scale(0.1329,0.1744)" font-size="10" font-weight="400" fill="#777">1255</text>
<rect x="211.10" y="315.02" width="3.70" height="1.0" fill="#fff" opacity="0.9"/>
<text transform="translate(211.50,316.02) scale(0.1335,0.1744)" font-size="10" font-weight="400" fill="#777">1292</text>
<rect x="211.10" y="316.94" width="3.70" height="1.0" fill="#fff" opacity="0.9"/>
<text transform="translate(211.50,317.94) scale(0.1333,0.1744)" font-size="10" font-weight="400" fill="#777">1329</text>
<rect x="211.10" y="318.86" width="3.70" height="1.0" fill="#fff" opacity="0.9"/>
<text transform="translate(211.50,319.86) scale(0.1330,0.1744)" font-size="10" font-weight="400" fill="#777">1366</text>
<rect x="211.10" y="320.78" width="3.70" height="1.0" fill="#fff" opacity="0.9"/>
<text transform="translate(211.50,321.78) scale(0.1330,0.1744)" font-size="10" font-weight="400" fill="#777">1403</text>
<rect x="211.10" y="322.70" width="3.70" height="1.0" fill="#fff" opacity="0.9"/>
<text transform="translate(211.50,323.70) scale(0.1327,0.1744)" font-size="10" font-weight="400" fill="#777">1440</text>
<rect x="211.10" y="324.62" width="3.70" height="1.0" fill="#fff" opacity="0.9"/>
<text transform="translate(211.50,325.62) scale(0.1335,0.1744)" font-size="10" font-weight="400" fill="#777">1477</text>
<rect x="211.10" y="326.54" width="3.70" height="1.0" fill="#fff" opacity="0.9"/>
<text transform="translate(211.50,327.54) scale(0.1321,0.1744)" font-size="10" font-weight="400" fill="#777">1514</text>
<rect x="211.10" y="328.46" width="3.70" height="1.0" fill="#fff" opacity="0.9"/>
<text transform="translate(211.50,329.46) scale(0.1334,0.1744)" font-size="10" font-weight="400" fill="#777">1551</text>
<rect x="211.10" y="330.38" width="3.70" height="1.0" fill="#fff" opacity="0.9"/>
<text transform="translate(211.50,331.38) scale(0.1330,0.1744)" font-size="10" font-weight="400" fill="#777">1588</text>
<rect x="211.10" y="332.30" width="3.70" height="1.0" fill="#fff" opacity="0.9"/>
<text transform="translate(211.50,333.30) scale(0.1329,0.1744)" font-size="10" font-weight="400" fill="#777">1625</text>
<rect x="216.40" y="309.2" width="3.60" height="2.7" fill="#fff"/>
<text transform="translate(216.84,311.40) scale(0.1427,0.2180)" font-size="10" font-weight="700" fill="#555">C90</text>
<rect x="216.30" y="313.10" width="3.70" height="1.0" fill="#fff" opacity="0.9"/>
<text transform="translate(216.70,314.10) scale(0.1330,0.1744)" font-size="10" font-weight="400" fill="#777">1266</text>
<rect x="216.30" y="315.02" width="3.70" height="1.0" fill="#fff" opacity="0.9"/>
<text transform="translate(216.70,316.02) scale(0.1330,0.1744)" font-size="10" font-weight="400" fill="#777">1303</text>
<rect x="216.30" y="316.94" width="3.70" height="1.0" fill="#fff" opacity="0.9"/>
<text transform="translate(216.70,317.94) scale(0.1327,0.1744)" font-size="10" font-weight="400" fill="#777">1340</text>
<rect x="216.30" y="318.86" width="3.70" height="1.0" fill="#fff" opacity="0.9"/>
<text transform="translate(216.70,319.86) scale(0.1335,0.1744)" font-size="10" font-weight="400" fill="#777">1377</text>
<rect x="216.30" y="320.78" width="3.70" height="1.0" fill="#fff" opacity="0.9"/>
<text transform="translate(216.70,321.78) scale(0.1321,0.1744)" font-size="10" font-weight="400" fill="#777">1414</text>
<rect x="216.30" y="322.70" width="3.70" height="1.0" fill="#fff" opacity="0.9"/>
<text transform="translate(216.70,323.70) scale(0.1334,0.1744)" font-size="10" font-weight="400" fill="#777">1451</text>
<rect x="216.30" y="324.62" width="3.70" height="1.0" fill="#fff" opacity="0.9"/>
<text transform="translate(216.70,325.62) scale(0.1330,0.1744)" font-size="10" font-weight="400" fill="#777">1488</text>
<rect x="216.30" y="326.54" width="3.70" height="1.0" fill="#fff" opacity="0.9"/>
<text transform="translate(216.70,327.54) scale(0.1329,0.1744)" font-size="10" font-weight="400" fill="#777">1525</text>
<rect x="216.30" y="328.46" width="3.70" height="1.0" fill="#fff" opacity="0.9"/>
<text transform="translate(216.70,329.46) scale(0.1335,0.1744)" font-size="10" font-weight="400" fill="#777">1562</text>
<rect x="216.30" y="330.38" width="3.70" height="1.0" fill="#fff" opacity="0.9"/>
<text transform="translate(216.70,331.38) scale(0.1333,0.1744)" font-size="10" font-weight="400" fill="#777">1599</text>
<rect x="216.30" y="332.30" width="3.70" height="1.0" fill="#fff" opacity="0.9"/>
<text transform="translate(216.70,333.30) scale(0.1330,0.1744)" font-size="10" font-weight="400" fill="#777">1636</text>
<rect x="221.60" y="309.2" width="3.60" height="2.7" fill="#fff"/>
<text transform="translate(222.06,311.40) scale(0.1077,0.2180)" font-size="10" font-weight="700" fill="#555">C105</text>
<rect x="221.50" y="313.10" width="3.70" height="1.0" fill="#fff" opacity="0.9"/>
<text transform="translate(221.90,314.10) scale(0.1335,0.1744)" font-size="10" font-weight="400" fill="#777">1277</text>
<rect x="221.50" y="315.02" width="3.70" height="1.0" fill="#fff" opacity="0.9"/>
<text transform="translate(221.90,316.02) scale(0.1321,0.1744)" font-size="10" font-weight="400" fill="#777">1314</text>
<rect x="221.50" y="316.94" width="3.70" height="1.0" fill="#fff" opacity="0.9"/>
<text transform="translate(221.90,317.94) scale(0.1334,0.1744)" font-size="10" font-weight="400" fill="#777">1351</text>
<rect x="221.50" y="318.86" width="3.70" height="1.0" fill="#fff" opacity="0.9"/>
<text transform="translate(221.90,319.86) scale(0.1330,0.1744)" font-size="10" font-weight="400" fill="#777">1388</text>
<rect x="221.50" y="320.78" width="3.70" height="1.0" fill="#fff" opacity="0.9"/>
<text transform="translate(221.90,321.78) scale(0.1329,0.1744)" font-size="10" font-weight="400" fill="#777">1425</text>
<rect x="221.50" y="322.70" width="3.70" height="1.0" fill="#fff" opacity="0.9"/>
<text transform="translate(221.90,323.70) scale(0.1335,0.1744)" font-size="10" font-weight="400" fill="#777">1462</text>
<rect x="221.50" y="324.62" width="3.70" height="1.0" fill="#fff" opacity="0.9"/>
<text transform="translate(221.90,325.62) scale(0.1333,0.1744)" font-size="10" font-weight="400" fill="#777">1499</text>
<rect x="221.50" y="326.54" width="3.70" height="1.0" fill="#fff" opacity="0.9"/>
<text transform="translate(221.90,327.54) scale(0.1330,0.1744)" font-size="10" font-weight="400" fill="#777">1536</text>
<rect x="221.50" y="328.46" width="3.70" height="1.0" fill="#fff" opacity="0.9"/>
<text transform="translate(221.90,329.46) scale(0.1330,0.1744)" font-size="10" font-weight="400" fill="#777">1573</text>
<rect x="221.50" y="330.38" width="3.70" height="1.0" fill="#fff" opacity="0.9"/>
<text transform="translate(221.90,331.38) scale(0.1327,0.1744)" font-size="10" font-weight="400" fill="#777">1610</text>
<rect x="221.50" y="332.30" width="3.70" height="1.0" fill="#fff" opacity="0.9"/>
<text transform="translate(221.90,333.30) scale(0.1335,0.1744)" font-size="10" font-weight="400" fill="#777">1647</text>
<line x1="189.40" y1="308.20" x2="189.40" y2="334.70" stroke="#000" stroke-width="0.85"/>
<line x1="194.60" y1="308.20" x2="194.60" y2="334.70" stroke="#000" stroke-width="0.85"/>
<line x1="199.80" y1="308.20" x2="199.80" y2="334.70" stroke="#000" stroke-width="0.85"/>
<line x1="205.00" y1="308.20" x2="205.00" y2="334.70" stroke="#000" stroke-width="0.85"/>
<line x1="210.20" y1="308.20" x2="210.20" y2="334.70" stroke="#000" stroke-width="0.85"/>
<line x1="215.40" y1="308.20" x2="215.40" y2="334.70" stroke="#000" stroke-width="0.85"/>
<line x1="220.60" y1="308.20" x2="220.60" y2="334.70" stroke="#000" stroke-width="0.85"/>
<line x1="184.20" y1="312.60" x2="225.80" y2="312.60" stroke="#111" stroke-width="0.6"/>
<line x1="184.20" y1="314.52" x2="225.80" y2="314.52" stroke="#111" stroke-width="0.6"/>
<line x1="184.20" y1="316.44" x2="225.80" y2="316.44" stroke="#111" stroke-width="0.6"/>
<line x1="184.20" y1="318.36" x2="225.80" y2="318.36" stroke="#111" stroke-width="0.6"/>
<line x1="184.20" y1="320.28" x2="225.80" y2="320.28" stroke="#111" stroke-width="0.6"/>
<line x1="184.20" y1="322.20" x2="225.80" y2="322.20" stroke="#111" stroke-width="0.6"/>
<line x1="184.20" y1="324.12" x2="225.80" y2="324.12" stroke="#111" stroke-width="0.6"/>
<line x1="184.20" y1="326.04" x2="225.80" y2="326.04" stroke="#111" stroke-width="0.6"/>
<line x1="184.20" y1="327.96" x2="225.80" y2="327.96" stroke="#111" stroke-width="0.6"/>
<line x1="184.20" y1="329.88" x2="225.80" y2="329.88" stroke="#111" stroke-width="0.6"/>
<line x1="184.20" y1="331.80" x2="225.80" y2="331.80" stroke="#111" stroke-width="0.6"/>
<text transform="translate(220.31,336.30) scale(0.1409,0.1890)" font-size="10" font-weight="400" fill="#777">(cd/m2)</text>
<text transform="translate(221.62,344.70) scale(0.1633,0.2035)" font-size="10" font-weight="400" fill="#555" stroke="#555" stroke-width="0.49">2024-04-16</text>
<line x1="81.20" y1="461.50" x2="237.70" y2="461.50" stroke="#4a4a4a" stroke-width="1.3"/>
<text transform="translate(81.63,465.60) scale(0.3343,0.3634)" font-size="10" font-weight="400" fill="#3a3a3a" stroke="#3a3a3a" stroke-width="0.19">CalcuLuX Photometrics 4.5</text>
<text transform="translate(145.23,465.60) scale(0.3268,0.3634)" font-size="10" font-weight="400" fill="#3a3a3a" stroke="#3a3a3a" stroke-width="0.19">Philips Lighting B.V.</text>
<text transform="translate(224.25,465.60) scale(0.3108,0.3634)" font-size="10" font-weight="400" fill="#3a3a3a" stroke="#3a3a3a" stroke-width="0.19">Page: 1/1</text>
</g></g>
<g id="spectrum">
<defs><linearGradient id="spec" x1="0" y1="0" x2="1" y2="0"><stop offset="0.000" stop-color="#7f7b78"/><stop offset="0.130" stop-color="#807c79"/><stop offset="0.150" stop-color="#86827f"/><stop offset="0.190" stop-color="#746f6e"/><stop offset="0.268" stop-color="#555150"/><stop offset="0.288" stop-color="#5f4166"/><stop offset="0.308" stop-color="#6c2f84"/><stop offset="0.322" stop-color="#5b2f8a"/><stop offset="0.340" stop-color="#3c3494"/><stop offset="0.357" stop-color="#213a98"/><stop offset="0.380" stop-color="#0e3e99"/><stop offset="0.436" stop-color="#063e98"/><stop offset="0.450" stop-color="#0a4595"/><stop offset="0.470" stop-color="#2f6e62"/><stop offset="0.495" stop-color="#3f8a38"/><stop offset="0.520" stop-color="#5a9c36"/><stop offset="0.560" stop-color="#a3c637"/><stop offset="0.600" stop-color="#e3e53a"/><stop offset="0.630" stop-color="#fdef3b"/><stop offset="0.660" stop-color="#fdc733"/><stop offset="0.690" stop-color="#fb9a2b"/><stop offset="0.715" stop-color="#fa7a2b"/><stop offset="0.745" stop-color="#fb4f2b"/><stop offset="0.790" stop-color="#fb442d"/><stop offset="0.860" stop-color="#f7403f"/><stop offset="0.930" stop-color="#f43f55"/><stop offset="1.000" stop-color="#f03f69"/></linearGradient></defs>
<rect x="683.0" y="227.8" width="483.70000000000005" height="209.09999999999997" fill="url(#spec)"/>
<line x1="683.0" y1="270.3" x2="1166.7" y2="270.3" stroke="#111" stroke-width="1.15"/>
<line x1="683.0" y1="312.4" x2="1166.7" y2="312.4" stroke="#111" stroke-width="1.15"/>
<line x1="683.0" y1="354.5" x2="1166.7" y2="354.5" stroke="#111" stroke-width="1.15"/>
<line x1="683.0" y1="396.6" x2="1166.7" y2="396.6" stroke="#111" stroke-width="1.15"/>
<polygon points="803.2,437.0 803.3,432.6 806.0,432.6 812.0,433.6 820.0,434.8 828.0,435.6 836.0,436.0 846.0,436.0 856.0,435.6 862.0,435.0 867.0,433.8 871.0,432.0 875.0,429.6 878.0,427.0 880.5,423.6 883.0,418.8 885.0,414.6 886.5,412.2 888.0,411.6 889.5,413.0 891.0,415.6 893.0,418.0 896.0,420.2 900.0,421.8 904.0,423.4 908.0,424.0 911.0,423.4 915.0,421.4 920.0,418.4 925.0,414.4 930.0,410.9 935.0,408.0 940.0,406.0 945.0,404.5 952.0,402.2 958.0,400.0 965.0,397.2 972.0,393.8 980.0,390.2 986.0,388.0 990.0,387.0 993.0,385.8 996.0,385.6 998.5,386.4 1000.3,386.2 1002.0,384.0 1003.4,383.0 1005.0,383.8 1007.0,383.4 1009.2,383.6 1010.2,379.0 1010.8,370.0 1011.5,358.5 1012.2,356.2 1013.0,359.0 1013.8,364.0 1014.4,352.0 1015.0,330.0 1015.8,312.4 1016.6,330.0 1017.4,353.0 1018.2,371.0 1019.0,375.6 1020.2,378.0 1021.6,380.6 1022.8,382.3 1024.2,381.0 1025.6,378.6 1026.6,372.0 1027.3,358.0 1028.1,314.0 1029.1,262.0 1029.7,228.0 1030.3,262.0 1031.1,296.0 1032.0,304.0 1032.6,296.0 1033.1,290.5 1033.7,300.0 1034.3,318.0 1035.0,353.0 1035.8,384.0 1036.6,398.0 1037.6,404.6 1038.8,407.4 1039.8,408.0 1040.8,406.4 1041.6,402.0 1042.3,391.0 1043.3,383.8 1044.2,391.0 1045.0,403.0 1046.0,408.0 1048.0,412.4 1050.5,416.6 1053.0,420.4 1055.5,422.8 1058.0,424.0 1060.5,423.6 1062.5,425.2 1065.0,426.8 1070.0,428.4 1076.0,430.0 1084.0,431.8 1092.0,433.0 1102.0,434.2 1114.0,435.2 1128.0,436.0 1145.0,436.6 1167.0,437.0" fill="#fff"/>
<polyline points="803.2,437.0 803.3,432.6 806.0,432.6 812.0,433.6 820.0,434.8 828.0,435.6 836.0,436.0 846.0,436.0 856.0,435.6 862.0,435.0 867.0,433.8 871.0,432.0 875.0,429.6 878.0,427.0 880.5,423.6 883.0,418.8 885.0,414.6 886.5,412.2 888.0,411.6 889.5,413.0 891.0,415.6 893.0,418.0 896.0,420.2 900.0,421.8 904.0,423.4 908.0,424.0 911.0,423.4 915.0,421.4 920.0,418.4 925.0,414.4 930.0,410.9 935.0,408.0 940.0,406.0 945.0,404.5 952.0,402.2 958.0,400.0 965.0,397.2 972.0,393.8 980.0,390.2 986.0,388.0 990.0,387.0 993.0,385.8 996.0,385.6 998.5,386.4 1000.3,386.2 1002.0,384.0 1003.4,383.0 1005.0,383.8 1007.0,383.4 1009.2,383.6 1010.2,379.0 1010.8,370.0 1011.5,358.5 1012.2,356.2 1013.0,359.0 1013.8,364.0 1014.4,352.0 1015.0,330.0 1015.8,312.4 1016.6,330.0 1017.4,353.0 1018.2,371.0 1019.0,375.6 1020.2,378.0 1021.6,380.6 1022.8,382.3 1024.2,381.0 1025.6,378.6 1026.6,372.0 1027.3,358.0 1028.1,314.0 1029.1,262.0 1029.7,228.0 1030.3,262.0 1031.1,296.0 1032.0,304.0 1032.6,296.0 1033.1,290.5 1033.7,300.0 1034.3,318.0 1035.0,353.0 1035.8,384.0 1036.6,398.0 1037.6,404.6 1038.8,407.4 1039.8,408.0 1040.8,406.4 1041.6,402.0 1042.3,391.0 1043.3,383.8 1044.2,391.0 1045.0,403.0 1046.0,408.0 1048.0,412.4 1050.5,416.6 1053.0,420.4 1055.5,422.8 1058.0,424.0 1060.5,423.6 1062.5,425.2 1065.0,426.8 1070.0,428.4 1076.0,430.0 1084.0,431.8 1092.0,433.0 1102.0,434.2 1114.0,435.2 1128.0,436.0 1145.0,436.6 1167.0,437.0" fill="none" stroke="#000" stroke-width="1.5" stroke-linejoin="round"/>
<rect x="683.0" y="227.8" width="483.70000000000005" height="209.09999999999997" fill="none" stroke="#000" stroke-width="1.7"/>
<line x1="682.15" y1="437.4" x2="1167.55" y2="437.4" stroke="#000" stroke-width="2.9"/>
<text x="655.61" y="236.80" font-size="14" font-weight="400" fill="#000" stroke="#000" stroke-width="0.3" textLength="21.59" lengthAdjust="spacingAndGlyphs">100</text>
<text x="662.21" y="274.00" font-size="14" font-weight="400" fill="#000" stroke="#000" stroke-width="0.3" textLength="15.01" lengthAdjust="spacingAndGlyphs">80</text>
<text x="662.11" y="317.80" font-size="14" font-weight="400" fill="#000" stroke="#000" stroke-width="0.3" textLength="15.12" lengthAdjust="spacingAndGlyphs">60</text>
<text x="662.29" y="360.20" font-size="14" font-weight="400" fill="#000" stroke="#000" stroke-width="0.3" textLength="14.93" lengthAdjust="spacingAndGlyphs">40</text>
<text x="662.12" y="401.40" font-size="14" font-weight="400" fill="#000" stroke="#000" stroke-width="0.3" textLength="15.11" lengthAdjust="spacingAndGlyphs">20</text>
<text x="669.67" y="440.70" font-size="14" font-weight="400" fill="#000" stroke="#000" stroke-width="0.3" textLength="7.56" lengthAdjust="spacingAndGlyphs">0</text>
<text x="673.12" y="454.00" font-size="14" font-weight="400" fill="#000" stroke="#000" stroke-width="0.3" textLength="22.51" lengthAdjust="spacingAndGlyphs">200</text>
<text x="750.69" y="454.00" font-size="14" font-weight="400" fill="#000" stroke="#000" stroke-width="0.3" textLength="22.12" lengthAdjust="spacingAndGlyphs">300</text>
<text x="833.20" y="454.00" font-size="14" font-weight="400" fill="#000" stroke="#000" stroke-width="0.3" textLength="22.12" lengthAdjust="spacingAndGlyphs">400</text>
<text x="912.77" y="454.00" font-size="14" font-weight="400" fill="#000" stroke="#000" stroke-width="0.3" textLength="22.05" lengthAdjust="spacingAndGlyphs">500</text>
<text x="992.73" y="454.00" font-size="14" font-weight="400" fill="#000" stroke="#000" stroke-width="0.3" textLength="21.98" lengthAdjust="spacingAndGlyphs">600</text>
<text x="1074.04" y="454.00" font-size="14" font-weight="400" fill="#000" stroke="#000" stroke-width="0.3" textLength="21.46" lengthAdjust="spacingAndGlyphs">700</text>
<text x="1147.22" y="454.00" font-size="14" font-weight="400" fill="#000" stroke="#000" stroke-width="0.3" textLength="22.09" lengthAdjust="spacingAndGlyphs">800</text>
<text x="1112.10" y="467.80" font-size="14.5" font-weight="400" fill="#000" stroke="#000" stroke-width="0.3" textLength="35.23" lengthAdjust="spacingAndGlyphs">λ[nm]</text>
<line x1="1148" y1="464.1" x2="1165" y2="464.1" stroke="#000" stroke-width="1.2"/>
<polygon points="1170.6,464.1 1163.2,462.2 1163.2,466.0" fill="#000"/>
<text transform="translate(647.30,325.20) rotate(-90)" x="-1.22" y="0.00" font-size="14.5" font-weight="400" fill="#000" stroke="#000" stroke-width="0.3" textLength="73.34" lengthAdjust="spacingAndGlyphs">Intensity (%)</text>
<line x1="642.5" y1="249.7" x2="642.5" y2="232" stroke="#000" stroke-width="1.2"/>
<polygon points="642.5,226.3 640.6,233.4 644.4,233.4" fill="#000"/>
</g>
<g id="polar">
<defs><clipPath id="pclip"><rect x="91.95" y="607.35" width="187.40" height="216.45"/></clipPath></defs>
<g clip-path="url(#pclip)" fill="none" stroke="#000" stroke-width="1.05">
<circle cx="185.6" cy="715.95" r="11.5"/>
<circle cx="185.6" cy="715.95" r="32.5"/>
<circle cx="185.6" cy="715.95" r="65.0"/>
<circle cx="185.6" cy="715.95" r="97.5"/>
<circle cx="185.6" cy="715.95" r="130.0"/>
<line x1="191.35" y1="705.99" x2="285.60" y2="542.74"/>
<line x1="195.56" y1="710.20" x2="358.81" y2="615.95"/>
<line x1="195.56" y1="721.70" x2="358.81" y2="815.95"/>
<line x1="191.35" y1="725.91" x2="285.60" y2="889.16"/>
<line x1="179.85" y1="725.91" x2="85.60" y2="889.16"/>
<line x1="175.64" y1="721.70" x2="12.39" y2="815.95"/>
<line x1="175.64" y1="710.20" x2="12.39" y2="615.95"/>
<line x1="179.85" y1="705.99" x2="85.60" y2="542.74"/>
</g>
<line x1="91.95" y1="715.95" x2="174.1" y2="715.95" stroke="#4a4a4a" stroke-width="1.6"/>
<line x1="197.1" y1="715.95" x2="279.35" y2="715.95" stroke="#4a4a4a" stroke-width="1.6"/>
<rect x="176.0" y="613.10" width="18.80" height="11" fill="#fff"/>
<rect x="175.7" y="646.00" width="19.20" height="11" fill="#fff"/>
<rect x="178.8" y="678.30" width="13.40" height="11" fill="#fff"/>
<rect x="178.8" y="742.20" width="13.40" height="11" fill="#fff"/>
<rect x="175.7" y="774.80" width="19.20" height="11" fill="#fff"/>
<rect x="176.0" y="807.50" width="18.80" height="11" fill="#fff"/>
<line x1="185.6" y1="607.4" x2="185.6" y2="611.6" stroke="#000" stroke-width="1.05"/>
<line x1="185.6" y1="625.9" x2="185.6" y2="644.1" stroke="#000" stroke-width="1.05"/>
<line x1="185.6" y1="658.9" x2="185.6" y2="676.6" stroke="#000" stroke-width="1.05"/>
<line x1="185.6" y1="691.1" x2="185.6" y2="704.5" stroke="#000" stroke-width="1.05"/>
<line x1="185.6" y1="727.4" x2="185.6" y2="740.6" stroke="#000" stroke-width="1.05"/>
<line x1="185.6" y1="754.9" x2="185.6" y2="773.1" stroke="#000" stroke-width="1.05"/>
<line x1="185.6" y1="787.5" x2="185.6" y2="805.8" stroke="#000" stroke-width="1.05"/>
<line x1="185.6" y1="820.2" x2="185.6" y2="823.8" stroke="#000" stroke-width="1.05"/>
<path d="M185.60,714.25C185.50,713.74 185.21,712.19 185.00,711.17C184.79,710.15 184.58,709.13 184.35,708.12C184.12,707.11 183.88,706.09 183.62,705.08C183.36,704.07 183.09,703.07 182.80,702.07C182.51,701.07 182.20,700.06 181.87,699.07C181.54,698.08 181.19,697.09 180.81,696.11C180.43,695.13 180.03,694.14 179.60,693.17C179.16,692.20 178.71,691.24 178.20,690.31C177.69,689.38 177.16,688.47 176.55,687.62C175.94,686.77 175.28,685.96 174.56,685.23C173.84,684.50 173.04,683.83 172.21,683.22C171.38,682.61 170.49,682.07 169.58,681.59C168.67,681.11 167.72,680.69 166.76,680.34C165.80,679.99 164.82,679.70 163.82,679.47C162.82,679.24 161.79,679.07 160.77,678.96C159.74,678.85 158.71,678.79 157.67,678.79C156.63,678.79 155.57,678.85 154.53,678.95C153.49,679.06 152.44,679.22 151.40,679.42C150.36,679.63 149.33,679.88 148.31,680.18C147.29,680.48 146.28,680.84 145.29,681.23C144.30,681.62 143.33,682.07 142.38,682.55C141.43,683.03 140.50,683.55 139.60,684.11C138.70,684.67 137.83,685.27 136.99,685.91C136.16,686.55 135.35,687.22 134.59,687.93C133.83,688.64 133.11,689.39 132.43,690.16C131.75,690.93 131.12,691.74 130.54,692.57C129.96,693.40 129.43,694.26 128.94,695.15C128.45,696.04 128.01,696.96 127.60,697.90C127.19,698.84 126.83,699.81 126.50,700.79C126.17,701.78 125.87,702.79 125.61,703.81C125.35,704.84 125.12,705.88 124.92,706.94C124.72,708.00 124.55,709.09 124.42,710.17C124.29,711.26 124.18,712.36 124.13,713.45C124.08,714.54 124.06,715.63 124.09,716.71C124.12,717.79 124.20,718.86 124.34,719.91C124.48,720.96 124.67,721.99 124.92,722.99C125.17,723.99 125.48,724.96 125.85,725.90C126.22,726.84 126.66,727.75 127.14,728.63C127.62,729.51 128.15,730.37 128.73,731.19C129.31,732.01 129.94,732.80 130.60,733.57C131.26,734.34 131.97,735.08 132.71,735.79C133.45,736.50 134.23,737.19 135.04,737.85C135.85,738.51 136.69,739.14 137.55,739.75C138.41,740.36 139.30,740.93 140.21,741.49C141.11,742.05 142.04,742.58 142.98,743.08C143.92,743.59 144.88,744.07 145.84,744.52C146.80,744.98 147.78,745.40 148.75,745.81C149.72,746.22 150.70,746.61 151.69,746.97C152.68,747.33 153.67,747.67 154.67,747.99C155.67,748.31 156.66,748.61 157.67,748.89C158.67,749.17 159.69,749.42 160.70,749.66C161.71,749.90 162.74,750.11 163.76,750.31C164.78,750.51 165.81,750.68 166.84,750.84C167.87,751.00 168.90,751.14 169.93,751.27C170.96,751.40 172.00,751.51 173.04,751.60C174.08,751.69 175.13,751.77 176.17,751.83C177.21,751.89 178.25,751.94 179.30,751.97C180.34,752.00 181.39,752.01 182.44,752.02C183.49,752.03 185.07,752.02 185.60,752.02 M185.60,752.02C186.13,752.02 187.71,752.03 188.76,752.02C189.81,752.01 190.86,752.00 191.90,751.97C192.94,751.94 193.99,751.89 195.03,751.83C196.07,751.77 197.12,751.69 198.16,751.60C199.20,751.51 200.24,751.40 201.27,751.27C202.30,751.14 203.33,751.00 204.36,750.84C205.39,750.68 206.42,750.51 207.44,750.31C208.46,750.11 209.49,749.90 210.50,749.66C211.51,749.42 212.53,749.17 213.53,748.89C214.53,748.61 215.53,748.31 216.53,747.99C217.53,747.67 218.52,747.33 219.51,746.97C220.50,746.61 221.47,746.22 222.45,745.81C223.42,745.40 224.40,744.98 225.36,744.52C226.32,744.07 227.28,743.59 228.22,743.08C229.16,742.58 230.09,742.05 230.99,741.49C231.90,740.93 232.79,740.36 233.65,739.75C234.51,739.14 235.35,738.51 236.16,737.85C236.97,737.19 237.75,736.50 238.49,735.79C239.23,735.08 239.94,734.34 240.60,733.57C241.26,732.80 241.89,732.01 242.47,731.19C243.05,730.37 243.58,729.51 244.06,728.63C244.54,727.75 244.98,726.84 245.35,725.90C245.72,724.96 246.03,723.99 246.28,722.99C246.53,721.99 246.72,720.96 246.86,719.91C247.00,718.86 247.07,717.79 247.11,716.71C247.14,715.63 247.12,714.54 247.07,713.45C247.01,712.36 246.91,711.26 246.78,710.17C246.65,709.09 246.48,708.00 246.28,706.94C246.08,705.88 245.85,704.84 245.59,703.81C245.33,702.79 245.03,701.78 244.70,700.79C244.37,699.81 244.01,698.84 243.60,697.90C243.19,696.96 242.75,696.04 242.26,695.15C241.77,694.26 241.24,693.40 240.66,692.57C240.08,691.74 239.44,690.93 238.77,690.16C238.09,689.39 237.37,688.64 236.61,687.93C235.85,687.22 235.04,686.55 234.21,685.91C233.37,685.27 232.50,684.67 231.60,684.11C230.70,683.55 229.77,683.03 228.82,682.55C227.87,682.07 226.90,681.62 225.91,681.23C224.92,680.84 223.91,680.48 222.89,680.18C221.87,679.88 220.84,679.63 219.80,679.42C218.76,679.22 217.71,679.06 216.67,678.95C215.62,678.85 214.57,678.79 213.53,678.79C212.49,678.79 211.46,678.85 210.43,678.96C209.41,679.07 208.38,679.24 207.38,679.47C206.38,679.70 205.40,679.99 204.44,680.34C203.48,680.69 202.53,681.11 201.62,681.59C200.71,682.07 199.82,682.61 198.99,683.22C198.16,683.83 197.36,684.50 196.64,685.23C195.92,685.96 195.26,686.77 194.65,687.62C194.04,688.47 193.51,689.38 193.00,690.31C192.49,691.24 192.03,692.20 191.60,693.17C191.16,694.14 190.77,695.13 190.39,696.11C190.01,697.09 189.66,698.08 189.33,699.07C189.00,700.06 188.69,701.07 188.40,702.07C188.11,703.07 187.84,704.07 187.58,705.08C187.32,706.09 187.08,707.11 186.85,708.12C186.62,709.13 186.41,710.15 186.20,711.17C185.99,712.19 185.70,713.74 185.60,714.25" fill="none" stroke="#b94fb2" stroke-width="1.35" stroke-linejoin="round"/>
<rect x="91.95" y="607.35" width="187.40" height="216.45" fill="none" stroke="#000" stroke-width="1.8"/>
<text x="176.26" y="622.80" font-size="11.7" font-weight="400" fill="#000" stroke="#000" stroke-width="0.2" textLength="18.48" lengthAdjust="spacingAndGlyphs">150</text>
<text x="176.27" y="655.70" font-size="11.7" font-weight="400" fill="#000" stroke="#000" stroke-width="0.2" textLength="18.26" lengthAdjust="spacingAndGlyphs">100</text>
<text x="179.57" y="687.90" font-size="11.7" font-weight="400" fill="#000" stroke="#000" stroke-width="0.2" textLength="12.06" lengthAdjust="spacingAndGlyphs">50</text>
<text x="179.57" y="751.80" font-size="11.7" font-weight="400" fill="#000" stroke="#000" stroke-width="0.2" textLength="12.06" lengthAdjust="spacingAndGlyphs">50</text>
<text x="176.27" y="784.50" font-size="11.7" font-weight="400" fill="#000" stroke="#000" stroke-width="0.2" textLength="18.26" lengthAdjust="spacingAndGlyphs">100</text>
<text x="176.26" y="817.20" font-size="11.7" font-weight="400" fill="#000" stroke="#000" stroke-width="0.2" textLength="18.48" lengthAdjust="spacingAndGlyphs">150</text>
<text x="104.04" y="601.70" font-size="12" font-weight="400" fill="#000" stroke="#000" stroke-width="0.25" textLength="18.80" lengthAdjust="spacingAndGlyphs">150</text>
<text x="122.45" y="600.20" font-size="11.5" fill="#000">°</text>
<text x="174.02" y="601.70" font-size="12" font-weight="400" fill="#000" stroke="#000" stroke-width="0.25" textLength="19.23" lengthAdjust="spacingAndGlyphs">180</text>
<text x="192.85" y="600.20" font-size="11.5" fill="#000">°</text>
<text x="244.14" y="601.70" font-size="12" font-weight="400" fill="#000" stroke="#000" stroke-width="0.25" textLength="18.91" lengthAdjust="spacingAndGlyphs">150</text>
<text x="262.65" y="600.20" font-size="11.5" fill="#000">°</text>
<text x="68.17" y="665.70" font-size="12" font-weight="400" fill="#000" stroke="#000" stroke-width="0.25" textLength="18.15" lengthAdjust="spacingAndGlyphs">120</text>
<text x="85.95" y="664.20" font-size="11.5" fill="#000">°</text>
<text x="71.64" y="717.40" font-size="12" font-weight="400" fill="#000" stroke="#000" stroke-width="0.25" textLength="13.22" lengthAdjust="spacingAndGlyphs">90</text>
<text x="84.45" y="715.90" font-size="11.5" fill="#000">°</text>
<text x="71.59" y="769.60" font-size="12" font-weight="400" fill="#000" stroke="#000" stroke-width="0.25" textLength="13.27" lengthAdjust="spacingAndGlyphs">60</text>
<text x="84.45" y="768.10" font-size="11.5" fill="#000">°</text>
<text x="279.76" y="665.70" font-size="12" font-weight="400" fill="#000" stroke="#000" stroke-width="0.25" textLength="18.48" lengthAdjust="spacingAndGlyphs">120</text>
<text x="297.85" y="664.20" font-size="11.5" fill="#000">°</text>
<text x="282.46" y="717.40" font-size="12" font-weight="400" fill="#000" stroke="#000" stroke-width="0.25" textLength="12.79" lengthAdjust="spacingAndGlyphs">90</text>
<text x="294.85" y="715.90" font-size="11.5" fill="#000">°</text>
<text x="282.41" y="769.60" font-size="12" font-weight="400" fill="#000" stroke="#000" stroke-width="0.25" textLength="12.84" lengthAdjust="spacingAndGlyphs">60</text>
<text x="294.85" y="768.10" font-size="11.5" fill="#000">°</text>
<text x="180.33" y="838.80" font-size="12" font-weight="400" fill="#000" stroke="#000" stroke-width="0.25" textLength="6.75" lengthAdjust="spacingAndGlyphs">0</text>
<text x="186.65" y="837.30" font-size="11.5" fill="#000">°</text>
<text x="91.69" y="838.80" font-size="12" font-weight="400" fill="#000" stroke="#000" stroke-width="0.25" textLength="60.42" lengthAdjust="spacingAndGlyphs">(cd/1000lm)</text>
<text x="244.86" y="811.60" font-size="12.5" font-weight="400" fill="#000" stroke="#000" stroke-width="0.25" textLength="5.37" lengthAdjust="spacingAndGlyphs">γ</text>
<line x1="253.9" y1="809.9" x2="262.5" y2="803.8" stroke="#000" stroke-width="1.1"/>
<polygon points="266.4,801.0 259.6,802.1 264.1,806.6" fill="#000"/>
</g>
<g id="life">
<line x1="125.2" y1="1018.50" x2="587.6" y2="1018.50" stroke="#c9c9c9" stroke-width="1.1"/>
<line x1="125.2" y1="1035.50" x2="587.6" y2="1035.50" stroke="#c9c9c9" stroke-width="1.1"/>
<line x1="125.2" y1="1053.50" x2="587.6" y2="1053.50" stroke="#c9c9c9" stroke-width="1.1"/>
<line x1="125.2" y1="1071.60" x2="587.6" y2="1071.60" stroke="#c9c9c9" stroke-width="1.1"/>
<line x1="125.2" y1="1089.50" x2="587.6" y2="1089.50" stroke="#c9c9c9" stroke-width="1.1"/>
<line x1="125.2" y1="1106.90" x2="587.6" y2="1106.90" stroke="#c9c9c9" stroke-width="1.1"/>
<line x1="125.2" y1="1125.50" x2="587.6" y2="1125.50" stroke="#c9c9c9" stroke-width="1.1"/>
<line x1="125.2" y1="1143.20" x2="587.6" y2="1143.20" stroke="#c9c9c9" stroke-width="1.1"/>
<line x1="125.2" y1="1160.70" x2="587.6" y2="1160.70" stroke="#c9c9c9" stroke-width="1.1"/>
<line x1="182.60" y1="1000.6" x2="182.60" y2="1178.3" stroke="#333" stroke-width="1.15"/>
<line x1="240.50" y1="1000.6" x2="240.50" y2="1178.3" stroke="#333" stroke-width="1.15"/>
<line x1="298.40" y1="1000.6" x2="298.40" y2="1178.3" stroke="#333" stroke-width="1.15"/>
<line x1="356.10" y1="1000.6" x2="356.10" y2="1178.3" stroke="#333" stroke-width="1.15"/>
<line x1="413.70" y1="1000.6" x2="413.70" y2="1178.3" stroke="#333" stroke-width="1.15"/>
<line x1="471.50" y1="1000.6" x2="471.50" y2="1178.3" stroke="#333" stroke-width="1.15"/>
<line x1="529.60" y1="1000.6" x2="529.60" y2="1178.3" stroke="#333" stroke-width="1.15"/>
<polyline points="125.2,1178.0 145.8,1177.7 152.6,1176.6 181.9,1176.5 188.7,1175.4 215.8,1175.3 222.6,1174.4 236.1,1174.4 242.9,1173.5 256.5,1173.5 263.2,1172.6 270.0,1172.4 276.8,1171.5 285.8,1171.3 297.1,1169.7 306.1,1169.2 312.9,1167.0 321.9,1164.9 331.0,1162.0 340.0,1159.5 346.8,1156.1 356.0,1149.8 367.1,1142.1 376.1,1134.7 388.5,1121.8 403.2,1107.6 413.6,1094.7 425.8,1080.5 437.1,1068.1 448.4,1057.9 459.7,1047.1 471.6,1038.0 480.0,1033.1 493.5,1024.7 507.1,1017.9 520.6,1013.4 534.2,1009.4 547.7,1006.9 561.3,1005.1 574.8,1003.9 587.7,1003.0" fill="none" stroke="#000" stroke-width="1.55" stroke-linejoin="round"/>
<rect x="125.2" y="1000.6" width="462.40" height="177.70" fill="none" stroke="#1a1a1a" stroke-width="1.8"/>
<line x1="124.45" y1="1178.3" x2="588.35" y2="1178.3" stroke="#1a1a1a" stroke-width="2"/>
<text x="91.63" y="1004.70" font-size="14.8" font-weight="400" fill="#000" stroke="#000" stroke-width="0.3" textLength="25.57" lengthAdjust="spacingAndGlyphs">100</text>
<text x="100.55" y="1040.60" font-size="14.8" font-weight="400" fill="#000" stroke="#000" stroke-width="0.3" textLength="16.63" lengthAdjust="spacingAndGlyphs">80</text>
<text x="100.44" y="1076.40" font-size="14.8" font-weight="400" fill="#000" stroke="#000" stroke-width="0.3" textLength="16.75" lengthAdjust="spacingAndGlyphs">60</text>
<text x="100.56" y="1110.90" font-size="14.8" font-weight="400" fill="#000" stroke="#000" stroke-width="0.3" textLength="16.63" lengthAdjust="spacingAndGlyphs">40</text>
<text x="100.44" y="1147.70" font-size="14.8" font-weight="400" fill="#000" stroke="#000" stroke-width="0.3" textLength="16.75" lengthAdjust="spacingAndGlyphs">20</text>
<text x="109.36" y="1183.30" font-size="14.8" font-weight="400" fill="#000" stroke="#000" stroke-width="0.3" textLength="9.07" lengthAdjust="spacingAndGlyphs">0</text>
<text x="121.68" y="1197.20" font-size="14.8" font-weight="400" fill="#000" stroke="#000" stroke-width="0.3" textLength="8.84" lengthAdjust="spacingAndGlyphs">0</text>
<text x="167.30" y="1197.20" font-size="14.8" font-weight="400" fill="#000" stroke="#000" stroke-width="0.3" textLength="33.28" lengthAdjust="spacingAndGlyphs">5000</text>
<text x="220.78" y="1197.20" font-size="14.8" font-weight="400" fill="#000" stroke="#000" stroke-width="0.3" textLength="40.79" lengthAdjust="spacingAndGlyphs">10000</text>
<text x="278.58" y="1197.20" font-size="14.8" font-weight="400" fill="#000" stroke="#000" stroke-width="0.3" textLength="40.79" lengthAdjust="spacingAndGlyphs">15000</text>
<text x="336.27" y="1197.20" font-size="14.8" font-weight="400" fill="#000" stroke="#000" stroke-width="0.3" textLength="40.40" lengthAdjust="spacingAndGlyphs">20000</text>
<text x="393.46" y="1197.20" font-size="14.8" font-weight="400" fill="#000" stroke="#000" stroke-width="0.3" textLength="40.81" lengthAdjust="spacingAndGlyphs">25000</text>
<text x="451.24" y="1197.20" font-size="14.8" font-weight="400" fill="#000" stroke="#000" stroke-width="0.3" textLength="41.04" lengthAdjust="spacingAndGlyphs">30000</text>
<text x="508.84" y="1197.20" font-size="14.8" font-weight="400" fill="#000" stroke="#000" stroke-width="0.3" textLength="41.24" lengthAdjust="spacingAndGlyphs">35000</text>
<text x="566.16" y="1197.20" font-size="14.8" font-weight="400" fill="#000" stroke="#000" stroke-width="0.3" textLength="41.53" lengthAdjust="spacingAndGlyphs">40000</text>
<text x="522.16" y="1219.80" font-size="15.2" font-weight="400" fill="#000" stroke="#000" stroke-width="0.3" textLength="84.76" lengthAdjust="spacingAndGlyphs">Time (hours)</text>
<text transform="translate(82.90,1110.90) rotate(-90)" x="-1.22" y="0.00" font-size="15.6" font-weight="400" fill="#000" stroke="#000" stroke-width="0.3" textLength="107.94" lengthAdjust="spacingAndGlyphs">Failure rate in %</text>
</g>
<g id="lumen">
<line x1="687.3" y1="1018.40" x2="1121.5" y2="1018.40" stroke="#c9c9c9" stroke-width="1.1"/>
<line x1="687.3" y1="1035.40" x2="1121.5" y2="1035.40" stroke="#c9c9c9" stroke-width="1.1"/>
<line x1="687.3" y1="1053.50" x2="1121.5" y2="1053.50" stroke="#c9c9c9" stroke-width="1.1"/>
<line x1="687.3" y1="1070.40" x2="1121.5" y2="1070.40" stroke="#c9c9c9" stroke-width="1.1"/>
<line x1="687.3" y1="1088.30" x2="1121.5" y2="1088.30" stroke="#c9c9c9" stroke-width="1.1"/>
<line x1="687.3" y1="1105.20" x2="1121.5" y2="1105.20" stroke="#c9c9c9" stroke-width="1.1"/>
<line x1="687.3" y1="1124.10" x2="1121.5" y2="1124.10" stroke="#c9c9c9" stroke-width="1.1"/>
<line x1="687.3" y1="1141.20" x2="1121.5" y2="1141.20" stroke="#c9c9c9" stroke-width="1.1"/>
<line x1="687.3" y1="1158.40" x2="1121.5" y2="1158.40" stroke="#c9c9c9" stroke-width="1.1"/>
<line x1="759.10" y1="1001.2" x2="759.10" y2="1176.0" stroke="#6a6a6a" stroke-width="1.0"/>
<line x1="831.60" y1="1001.2" x2="831.60" y2="1176.0" stroke="#6a6a6a" stroke-width="1.0"/>
<line x1="904.10" y1="1001.2" x2="904.10" y2="1176.0" stroke="#6a6a6a" stroke-width="1.0"/>
<line x1="975.40" y1="1001.2" x2="975.40" y2="1176.0" stroke="#6a6a6a" stroke-width="1.0"/>
<line x1="1048.60" y1="1001.2" x2="1048.60" y2="1176.0" stroke="#6a6a6a" stroke-width="1.0"/>
<polyline points="687.3,1001.2 694.5,1005.9 701.8,1010.6 709.0,1015.3 716.2,1019.8 723.5,1024.3 730.7,1028.7 738.0,1033.1 745.2,1037.4 752.4,1041.7 759.7,1045.9 766.9,1050.0 774.1,1054.1 781.4,1058.2 788.6,1062.1 795.8,1066.1 803.1,1069.9 810.3,1073.7 817.6,1077.5 824.8,1081.2 832.0,1084.9 839.3,1088.5 846.5,1092.1 853.7,1095.6 861.0,1099.0 868.2,1102.5 875.5,1105.8 882.7,1109.2 889.9,1112.4 897.2,1115.7 904.4,1118.9 911.6,1122.0 918.9,1125.1 926.1,1128.2 933.3,1131.2 940.6,1134.2 947.8,1137.2 955.1,1140.1 962.3,1142.9 969.5,1145.7 976.8,1148.5 984.0,1151.3 991.2,1154.0 998.5,1156.7 1005.7,1159.3 1013.0,1161.9 1020.2,1164.5 1027.4,1167.0 1034.7,1169.5 1041.9,1172.0 1049.1,1174.4 1054.0,1176.0 1055.5,1176.0" fill="none" stroke="#000" stroke-width="1.55" stroke-linejoin="round"/>
<rect x="687.3" y="1001.2" width="434.20" height="174.80" fill="none" stroke="#1a1a1a" stroke-width="1.6"/>
<text x="654.94" y="1004.80" font-size="14.8" font-weight="400" fill="#000" stroke="#000" stroke-width="0.3" textLength="25.46" lengthAdjust="spacingAndGlyphs">100</text>
<text x="662.86" y="1039.80" font-size="14.8" font-weight="400" fill="#000" stroke="#000" stroke-width="0.3" textLength="17.56" lengthAdjust="spacingAndGlyphs">90</text>
<text x="662.92" y="1076.00" font-size="14.8" font-weight="400" fill="#000" stroke="#000" stroke-width="0.3" textLength="17.50" lengthAdjust="spacingAndGlyphs">80</text>
<text x="662.79" y="1111.00" font-size="14.8" font-weight="400" fill="#000" stroke="#000" stroke-width="0.3" textLength="17.63" lengthAdjust="spacingAndGlyphs">70</text>
<text x="662.80" y="1146.00" font-size="14.8" font-weight="400" fill="#000" stroke="#000" stroke-width="0.3" textLength="17.62" lengthAdjust="spacingAndGlyphs">60</text>
<text x="662.97" y="1180.50" font-size="14.8" font-weight="400" fill="#000" stroke="#000" stroke-width="0.3" textLength="17.44" lengthAdjust="spacingAndGlyphs">50</text>
<text x="684.40" y="1191.60" font-size="14.8" font-weight="400" fill="#000" stroke="#000" stroke-width="0.3" textLength="8.49" lengthAdjust="spacingAndGlyphs">0</text>
<text x="740.79" y="1191.60" font-size="14.8" font-weight="400" fill="#000" stroke="#000" stroke-width="0.3" textLength="40.58" lengthAdjust="spacingAndGlyphs">10000</text>
<text x="811.85" y="1191.60" font-size="14.8" font-weight="400" fill="#000" stroke="#000" stroke-width="0.3" textLength="41.33" lengthAdjust="spacingAndGlyphs">20000</text>
<text x="884.04" y="1191.60" font-size="14.8" font-weight="400" fill="#000" stroke="#000" stroke-width="0.3" textLength="41.14" lengthAdjust="spacingAndGlyphs">30000</text>
<text x="956.76" y="1191.60" font-size="14.8" font-weight="400" fill="#000" stroke="#000" stroke-width="0.3" textLength="40.91" lengthAdjust="spacingAndGlyphs">40000</text>
<text x="1028.81" y="1191.60" font-size="14.8" font-weight="400" fill="#000" stroke="#000" stroke-width="0.3" textLength="41.17" lengthAdjust="spacingAndGlyphs">50000</text>
<text x="1100.23" y="1191.60" font-size="14.8" font-weight="400" fill="#000" stroke="#000" stroke-width="0.3" textLength="41.96" lengthAdjust="spacingAndGlyphs">60000</text>
<text x="1077.16" y="1214.80" font-size="15.2" font-weight="400" fill="#000" stroke="#000" stroke-width="0.3" textLength="93.88" lengthAdjust="spacingAndGlyphs">Burning hours</text>
<text transform="translate(646.40,1074.80) rotate(-90)" x="-1.20" y="0.00" font-size="15.6" font-weight="400" fill="#000" stroke="#000" stroke-width="0.3" textLength="77.32" lengthAdjust="spacingAndGlyphs">Lumen in %</text>
</g>
</svg>
</body></html>
